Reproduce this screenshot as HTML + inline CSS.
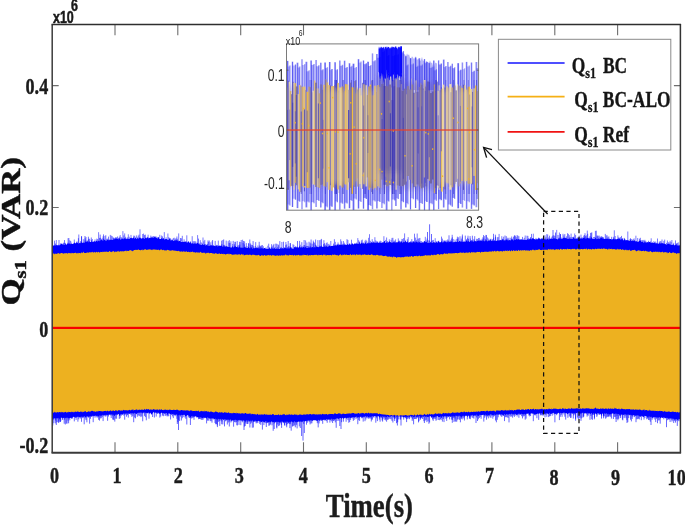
<!DOCTYPE html>
<html lang="en">
<head>
<meta charset="utf-8">
<title>Qs1 (VAR) vs Time(s)</title>
<style>
html,body{margin:0;padding:0;background:#fff;}
body{width:685px;height:525px;overflow:hidden;}
svg{display:block;}
text{white-space:pre;}
</style>
</head>
<body>
<svg width="685" height="525" viewBox="0 0 685 525">
<defs>
<clipPath id="ic"><rect x="286.5" y="43.9" width="192.1" height="166.3"/></clipPath>
<filter id="soft" x="-5%" y="-5%" width="110%" height="110%"><feGaussianBlur stdDeviation=".55"/></filter>
<filter id="soft3" x="-10%" y="-10%" width="120%" height="120%"><feGaussianBlur stdDeviation="2.5"/></filter>
<filter id="noop" x="0" y="0" width="100%" height="100%" filterUnits="userSpaceOnUse"><feOffset dx="0" dy="0"/></filter>
<clipPath id="mc"><rect x="52.2" y="24.5" width="628.1" height="428.2"/></clipPath>
</defs>
<rect width="685" height="525" fill="#fff"/>
<path d="M115 452.8v-10.6M115 24.5v10.8M177.8 452.8v-10.6M177.8 24.5v10.8M240.7 452.8v-10.6M240.7 24.5v10.8M303.5 452.8v-10.6M303.5 24.5v10.8M366.3 452.8v-10.6M366.3 24.5v10.8M429.1 452.8v-10.6M429.1 24.5v10.8M491.9 452.8v-10.6M491.9 24.5v10.8M554.8 452.8v-10.6M554.8 24.5v10.8M617.6 452.8v-10.6M617.6 24.5v10.8M52.2 85.6h6.5M680.4 85.6h-6.5M52.2 207.5h6.5M680.4 207.5h-6.5M52.2 327.9h6.5M680.4 327.9h-6.5" stroke="#6e6e6e" stroke-width="1.1" fill="none"/>
<g clip-path="url(#mc)">
<polygon fill="#0000ff" points="52.2,246.2 52.8,245.9 53.2,245.8 53.8,245.2 54.2,245.6 54.8,245 55.2,245.8 55.8,244.6 56.2,245.3 56.8,245.1 57.2,245.2 57.8,245.3 58.2,245.4 58.8,244.6 59.2,245.4 59.8,244.8 60.2,244.1 60.8,244.9 61.2,243.5 61.8,244 62.2,243.5 62.8,244.8 63.2,243.9 63.8,244.7 64.2,244.8 64.8,244.7 65.2,242.5 65.8,244.3 66.2,244.7 66.8,244.5 67.2,243.2 67.8,244.1 68.2,243.6 68.8,243.7 69.2,243.4 69.8,243.6 70.2,244.3 70.8,243.4 71.2,243.7 71.8,244 72.2,244 72.8,244 73.2,242.9 73.8,243.9 74.2,242.7 74.8,242.4 75.2,243 75.8,243.6 76.2,243.1 76.8,241.8 77.2,242.9 77.8,242.4 78.2,243.4 78.8,242.9 79.2,243.2 79.8,242.7 80.2,243.2 80.8,242.6 81.2,241.9 81.8,242.5 82.2,242.9 82.8,242.6 83.2,242.9 83.8,241.9 84.2,242.4 84.8,242.6 85.2,242 85.8,241.7 86.2,241.5 86.8,241.9 87.2,242 87.8,240.7 88.2,242.1 88.8,242.3 89.2,241.2 89.8,241.7 90.2,242 90.8,241.9 91.2,241.9 91.8,240.7 92.2,241.7 92.8,241.7 93.2,241.6 93.8,241.8 94.2,241.6 94.8,240.8 95.2,241.7 95.8,241.3 96.2,240.6 96.8,241 97.2,241.5 97.8,240.8 98.2,241.1 98.8,240.4 99.2,241.3 99.8,240.7 100.2,240 100.8,240.8 101.2,239.5 101.8,239.2 102.2,240.7 102.8,240.1 103.2,240.7 103.8,238.8 104.2,240 104.8,240.1 105.2,240.5 105.8,240.2 106.2,240.4 106.8,240.3 107.2,239.8 107.8,239.9 108.2,239.4 108.8,240.2 109.2,240.2 109.8,239.3 110.2,239.9 110.8,239.4 111.2,239.2 111.8,239.9 112.2,239.9 112.8,239.4 113.2,239.8 113.8,238.1 114.2,238.8 114.8,239.5 115.2,237.9 115.8,239 116.2,238.1 116.8,239 117.2,238.9 117.8,238.9 118.2,239.5 118.8,238.2 119.2,238.4 119.8,238.2 120.2,239.4 120.8,239.2 121.2,239.3 121.8,238.5 122.2,238.4 122.8,238.9 123.2,239.3 123.8,238.6 124.2,238.7 124.8,238.1 125.2,238.1 125.8,239.1 126.2,238.3 126.8,239.2 127.2,238.5 127.8,238.8 128.2,238.6 128.8,239.1 129.2,238.7 129.8,238.8 130.2,237.8 130.8,238.3 131.2,237.5 131.8,238.3 132.2,238 132.8,238.6 133.2,237.6 133.8,237.6 134.2,238.7 134.8,238.3 135.2,237.2 135.8,238.1 136.2,238.8 136.8,238.7 137.2,238.1 137.8,238.3 138.2,238.2 138.8,238.6 139.2,237.7 139.8,237.6 140.2,237.4 140.8,238.2 141.2,238.4 141.8,238.6 142.2,238.2 142.8,238.1 143.2,238 143.8,238.3 144.2,238.4 144.8,238.5 145.2,237.5 145.8,237.9 146.2,238.2 146.8,238 147.2,237.3 147.8,237.7 148.2,237.6 148.8,238.4 149.2,238 149.8,237.8 150.2,237.8 150.8,237.7 151.2,238.1 151.8,237.2 152.2,237.4 152.8,237.8 153.2,238.1 153.8,237.8 154.2,236.9 154.8,237.3 155.2,237.6 155.8,237.2 156.2,238 156.8,237.9 157.2,238.8 157.8,238.1 158.2,237.4 158.8,237.1 159.2,238.8 159.8,239 160.2,238.9 160.8,239.1 161.2,238.4 161.8,237.9 162.2,239.2 162.8,238.5 163.2,238 163.8,239.1 164.2,239.5 164.8,239.3 165.2,238.8 165.8,239.2 166.2,239 166.8,239.1 167.2,239.8 167.8,239.4 168.2,239.8 168.8,239.9 169.2,238.5 169.8,239.1 170.2,239.6 170.8,240.4 171.2,240.6 171.8,239.4 172.2,240.3 172.8,240.1 173.2,240.8 173.8,240.9 174.2,240.8 174.8,240.1 175.2,241.1 175.8,239.3 176.2,240.7 176.8,239.6 177.2,238.5 177.8,241 178.2,240.4 178.8,241.6 179.2,240.7 179.8,240.9 180.2,240.8 180.8,241.8 181.2,241.9 181.8,242 182.2,242.1 182.8,241.4 183.2,241.7 183.8,242.1 184.2,241.4 184.8,242 185.2,241.9 185.8,241.6 186.2,241.5 186.8,242.6 187.2,242.8 187.8,241.7 188.2,241.4 188.8,241.7 189.2,242.7 189.8,242.5 190.2,242.9 190.8,241 191.2,243.2 191.8,243.4 192.2,243.5 192.8,242.7 193.2,243.5 193.8,243.6 194.2,242.8 194.8,243.7 195.2,244 195.8,242.7 196.2,243.7 196.8,243.9 197.2,242.7 197.8,243 198.2,243.6 198.8,243.7 199.2,244 199.8,244.6 200.2,244.6 200.8,244.6 201.2,244.7 201.8,244.9 202.2,243.7 202.8,244.6 203.2,245.1 203.8,244.7 204.2,244.7 204.8,243.9 205.2,245 205.8,245.4 206.2,245.2 206.8,244.6 207.2,245.6 207.8,244.9 208.2,245.4 208.8,245.6 209.2,245.6 209.8,245.8 210.2,244.5 210.8,245.7 211.2,245.2 211.8,245.2 212.2,245.4 212.8,245.6 213.2,244.8 213.8,245.9 214.2,245.7 214.8,246.1 215.2,246.3 215.8,245.5 216.2,246 216.8,244.6 217.2,246.3 217.8,246.3 218.2,245.6 218.8,246.3 219.2,245.5 219.8,245.7 220.2,245.6 220.8,245.9 221.2,245.8 221.8,245.5 222.2,246.6 222.8,246.4 223.2,245.2 223.8,246.8 224.2,246.5 224.8,245.8 225.2,247 225.8,245.8 226.2,246.3 226.8,246.3 227.2,246.4 227.8,246.8 228.2,247 228.8,247.1 229.2,247.1 229.8,247.1 230.2,247.1 230.8,247.4 231.2,247.2 231.8,247.4 232.2,247 232.8,245.8 233.2,247 233.8,247.5 234.2,246.1 234.8,247.3 235.2,245.9 235.8,246.4 236.2,246.9 236.8,247.1 237.2,247.6 237.8,246.2 238.2,247.5 238.8,247.2 239.2,247.3 239.8,245.9 240.2,247.7 240.8,247.2 241.2,246.9 241.8,247.9 242.2,247.9 242.8,247 243.2,248 243.8,247.1 244.2,247.1 244.8,247.2 245.2,247.2 245.8,247.8 246.2,247.8 246.8,248.1 247.2,247.9 247.8,248 248.2,247.2 248.8,247.1 249.2,247.7 249.8,248.2 250.2,248.2 250.8,247.6 251.2,246.9 251.8,247.8 252.2,248.4 252.8,248.2 253.2,248.3 253.8,247.7 254.2,248.5 254.8,247.6 255.2,247.9 255.8,248 256.2,248.3 256.8,247.1 257.2,247.6 257.8,248.3 258.2,247.6 258.8,248.5 259.2,248.6 259.8,247.9 260.2,246.6 260.8,248.8 261.2,247.5 261.8,248.4 262.2,248.8 262.8,247.5 263.2,248.7 263.8,248.2 264.2,247.9 264.8,248.1 265.2,248.8 265.8,248.2 266.2,248.7 266.8,248.7 267.2,249.1 267.8,248.7 268.2,248.4 268.8,248.9 269.2,248.2 269.8,248 270.2,249.1 270.8,248.4 271.2,247.8 271.8,249.2 272.2,248.6 272.8,248.3 273.2,248.4 273.8,248.7 274.2,247.8 274.8,248.5 275.2,248.8 275.8,249 276.2,248.5 276.8,248.6 277.2,249 277.8,248.6 278.2,249.1 278.8,248.2 279.2,249 279.8,249.1 280.2,248.3 280.8,248.3 281.2,249.1 281.8,247.5 282.2,248.5 282.8,248.1 283.2,247.4 283.8,249 284.2,248 284.8,247.6 285.2,248 285.8,248.3 286.2,247.9 286.8,248.6 287.2,248.2 287.8,248.2 288.2,248.3 288.8,248.2 289.2,248.4 289.8,247.9 290.2,247.7 290.8,247.1 291.2,247.1 291.8,248.4 292.2,248.5 292.8,248.6 293.2,248.5 293.8,248.6 294.2,246.9 294.8,247.6 295.2,247.1 295.8,247.6 296.2,247.3 296.8,247.8 297.2,247.7 297.8,247.5 298.2,247.1 298.8,248 299.2,247.1 299.8,245.8 300.2,247.8 300.8,247.3 301.2,247.3 301.8,247.2 302.2,247.9 302.8,246.8 303.2,247.2 303.8,246.8 304.2,247.3 304.8,247.6 305.2,247.2 305.8,246.2 306.2,247.6 306.8,247.9 307.2,247.8 307.8,247.7 308.2,246.8 308.8,247.7 309.2,247.7 309.8,246.5 310.2,246 310.8,247.5 311.2,246.9 311.8,247.5 312.2,247 312.8,246.9 313.2,247.4 313.8,246.5 314.2,246.9 314.8,247.3 315.2,247.1 315.8,247.2 316.2,246.7 316.8,246.4 317.2,247 317.8,246.7 318.2,247 318.8,247.2 319.2,245.9 319.8,247.1 320.2,245.9 320.8,246.5 321.2,246.8 321.8,245.1 322.2,246.9 322.8,246.8 323.2,246.8 323.8,246.5 324.2,246.5 324.8,245.9 325.2,246.5 325.8,246.2 326.2,246.6 326.8,245.6 327.2,246.4 327.8,246.5 328.2,246.4 328.8,246.1 329.2,246 329.8,245 330.2,246 330.8,246.2 331.2,246.1 331.8,246 332.2,245.7 332.8,246 333.2,245.6 333.8,245.8 334.2,245.9 334.8,244.7 335.2,245.5 335.8,244.9 336.2,245 336.8,245.7 337.2,244.5 337.8,245 338.2,245.6 338.8,243.5 339.2,245.3 339.8,244.3 340.2,244.4 340.8,245 341.2,244.4 341.8,245.1 342.2,245.2 342.8,243.8 343.2,243.9 343.8,245.2 344.2,245 344.8,244.1 345.2,244.6 345.8,244.8 346.2,244.7 346.8,245 347.2,244.1 347.8,244.3 348.2,244.9 348.8,244.2 349.2,244.3 349.8,243.8 350.2,244.4 350.8,244.4 351.2,244.4 351.8,243.7 352.2,243.1 352.8,244 353.2,244.5 353.8,244.2 354.2,242.9 354.8,244.1 355.2,243.8 355.8,243.6 356.2,242.3 356.8,244 357.2,243.4 357.8,243.8 358.2,243.6 358.8,244.1 359.2,243.4 359.8,241.6 360.2,243.9 360.8,243.5 361.2,243.3 361.8,242.4 362.2,242.9 362.8,243.6 363.2,243.6 363.8,243.1 364.2,243.3 364.8,243.7 365.2,242.9 365.8,241.9 366.2,243.5 366.8,243.6 367.2,243.4 367.8,242.4 368.2,243.5 368.8,242.2 369.2,242.7 369.8,243.3 370.2,243.3 370.8,242.8 371.2,242.5 371.8,242.1 372.2,242.6 372.8,243.1 373.2,242.8 373.8,242 374.2,242.4 374.8,242.9 375.2,242.8 375.8,242.8 376.2,242.3 376.8,243 377.2,242.2 377.8,242.4 378.2,242.4 378.8,243 379.2,242.5 379.8,242.5 380.2,242.9 380.8,242.2 381.2,243 381.8,242.7 382.2,242.2 382.8,242.4 383.2,242.6 383.8,241.9 384.2,240.9 384.8,241.1 385.2,242.9 385.8,242.7 386.2,241.5 386.8,242.8 387.2,242 387.8,242.7 388.2,242.4 388.8,242.1 389.2,241.3 389.8,241.5 390.2,242.2 390.8,242.1 391.2,242.6 391.8,242.6 392.2,242.2 392.8,242.4 393.2,242.3 393.8,241.9 394.2,242.4 394.8,241.8 395.2,241.7 395.8,242.7 396.2,242 396.8,242.4 397.2,242.5 397.8,242.1 398.2,241.3 398.8,241.8 399.2,242.4 399.8,240.4 400.2,241.8 400.8,242.6 401.2,242.1 401.8,240.9 402.2,242.5 402.8,242.4 403.2,241.6 403.8,242.3 404.2,242.1 404.8,242.3 405.2,241 405.8,241.2 406.2,242.2 406.8,242.1 407.2,240.9 407.8,242.2 408.2,242.6 408.8,242.4 409.2,242.1 409.8,242.5 410.2,241.2 410.8,242.4 411.2,242.1 411.8,242.5 412.2,242.2 412.8,242.5 413.2,240.7 413.8,241.7 414.2,242.6 414.8,241.8 415.2,241 415.8,242.8 416.2,241.2 416.8,242 417.2,241.7 417.8,242.4 418.2,242.8 418.8,241 419.2,242.5 419.8,241.5 420.2,242.6 420.8,242.8 421.2,242.6 421.8,242.8 422.2,242.4 422.8,242.3 423.2,241.4 423.8,242.9 424.2,241.2 424.8,241.1 425.2,241.7 425.8,242.3 426.2,242.3 426.8,241.6 427.2,242.8 427.8,242.8 428.2,242.6 428.8,242.8 429.2,242.5 429.8,242.8 430.2,241.9 430.8,242.6 431.2,240.8 431.8,242.8 432.2,242.7 432.8,242.4 433.2,242.2 433.8,241.9 434.2,242.7 434.8,242 435.2,242.6 435.8,242.7 436.2,241.4 436.8,242.2 437.2,242.7 437.8,242.3 438.2,241.5 438.8,241 439.2,242.2 439.8,242.3 440.2,242.2 440.8,242.2 441.2,241.5 441.8,241.3 442.2,242 442.8,242.4 443.2,242.1 443.8,242.2 444.2,241.8 444.8,240.8 445.2,242.3 445.8,241.3 446.2,242 446.8,242.2 447.2,242.3 447.8,241.1 448.2,242.4 448.8,241.2 449.2,241.8 449.8,241.7 450.2,241.4 450.8,242.1 451.2,241.9 451.8,240.7 452.2,241.8 452.8,242.3 453.2,242.1 453.8,242.3 454.2,241.8 454.8,242.3 455.2,241.2 455.8,242 456.2,242 456.8,241.9 457.2,241 457.8,242.1 458.2,242 458.8,242.1 459.2,241 459.8,240.8 460.2,242.1 460.8,241.1 461.2,240.6 461.8,241.9 462.2,242.1 462.8,241.5 463.2,242 463.8,241.5 464.2,241.6 464.8,241.4 465.2,242 465.8,241.1 466.2,239.7 466.8,241.1 467.2,241.6 467.8,241.2 468.2,241.2 468.8,240.9 469.2,241.5 469.8,241.9 470.2,241 470.8,241 471.2,241.4 471.8,239.9 472.2,240.5 472.8,241.4 473.2,241.6 473.8,241.6 474.2,240.1 474.8,241.3 475.2,241 475.8,241.2 476.2,241.6 476.8,240.8 477.2,241 477.8,241.1 478.2,240.5 478.8,240.8 479.2,240.2 479.8,241.3 480.2,240.5 480.8,241.1 481.2,240.6 481.8,240.9 482.2,241.3 482.8,239.2 483.2,240.7 483.8,240.9 484.2,241.3 484.8,241 485.2,240.2 485.8,240.9 486.2,239.7 486.8,241 487.2,241.2 487.8,241.1 488.2,240 488.8,240.9 489.2,240.4 489.8,240.2 490.2,240.4 490.8,239.2 491.2,240.4 491.8,240.9 492.2,240.9 492.8,239.4 493.2,240.2 493.8,240.9 494.2,240.6 494.8,240.3 495.2,240.6 495.8,240.7 496.2,240.7 496.8,240.8 497.2,240.8 497.8,239.8 498.2,240.8 498.8,240.1 499.2,240 499.8,240.6 500.2,240.2 500.8,239.8 501.2,240.6 501.8,239.8 502.2,239.7 502.8,238.6 503.2,238.9 503.8,240.5 504.2,240 504.8,240.5 505.2,240.5 505.8,239.2 506.2,239.4 506.8,239.6 507.2,240.5 507.8,239.3 508.2,240.4 508.8,239.9 509.2,240.3 509.8,239.8 510.2,240.4 510.8,240 511.2,240 511.8,238.5 512.2,239.6 512.8,239.8 513.2,240.2 513.8,240.3 514.2,239.4 514.8,239.9 515.2,239.7 515.8,240.1 516.2,239.2 516.8,239 517.2,239.2 517.8,239.7 518.2,239.2 518.8,239.1 519.2,240.1 519.8,239 520.2,239.8 520.8,239.3 521.2,239.1 521.8,239.7 522.2,239.7 522.8,239.4 523.2,239.5 523.8,239.7 524.2,240 524.8,239.6 525.2,239.6 525.8,239.9 526.2,240 526.8,239.5 527.2,239.6 527.8,239 528.2,239.8 528.8,239.1 529.2,238.8 529.8,239.4 530.2,237.9 530.8,239.1 531.2,239.1 531.8,239.6 532.2,238.2 532.8,238.3 533.2,238.1 533.8,238.9 534.2,239.2 534.8,239.1 535.2,239.1 535.8,239.7 536.2,239.3 536.8,239.1 537.2,239.6 537.8,238.8 538.2,237.7 538.8,239.1 539.2,238.7 539.8,238.8 540.2,239.4 540.8,238.8 541.2,239.3 541.8,238.8 542.2,238.8 542.8,238.2 543.2,239.5 543.8,239.1 544.2,238.6 544.8,239.4 545.2,238.6 545.8,239.5 546.2,239.4 546.8,238.9 547.2,238.5 547.8,239.1 548.2,239.2 548.8,239.3 549.2,239.3 549.8,238.6 550.2,238.4 550.8,239 551.2,238.9 551.8,238.6 552.2,239 552.8,239 553.2,238.9 553.8,237.5 554.2,238.9 554.8,237.7 555.2,238.4 555.8,238.7 556.2,238.9 556.8,238.8 557.2,239.2 557.8,239.2 558.2,238.9 558.8,237.6 559.2,239 559.8,237.2 560.2,238.8 560.8,238.5 561.2,238.5 561.8,239 562.2,238.9 562.8,237.9 563.2,237.6 563.8,238.2 564.2,237.3 564.8,238.3 565.2,237.7 565.8,238.2 566.2,238.5 566.8,237.9 567.2,238.8 567.8,238.8 568.2,239 568.8,238.6 569.2,237.5 569.8,238.9 570.2,239 570.8,238.2 571.2,238.6 571.8,238.9 572.2,238.4 572.8,239.1 573.2,237.5 573.8,237.3 574.2,238.8 574.8,238.3 575.2,238.8 575.8,238.4 576.2,238.9 576.8,237.9 577.2,239 577.8,236.9 578.2,238.1 578.8,238.1 579.2,238.3 579.8,238.8 580.2,238.2 580.8,238.4 581.2,238.5 581.8,238.3 582.2,238.3 582.8,238.8 583.2,238.1 583.8,237.7 584.2,238.5 584.8,237.1 585.2,238.5 585.8,238.6 586.2,238.7 586.8,237.5 587.2,238.1 587.8,238.1 588.2,238.4 588.8,238.1 589.2,238.5 589.8,238.3 590.2,239.1 590.8,237.7 591.2,237.8 591.8,237 592.2,238.2 592.8,238.9 593.2,239 593.8,239 594.2,238.9 594.8,239 595.2,238.2 595.8,237.3 596.2,239.2 596.8,238.6 597.2,239.1 597.8,239 598.2,238.4 598.8,238.6 599.2,238.5 599.8,238.9 600.2,238.6 600.8,237.4 601.2,237.2 601.8,237.9 602.2,239 602.8,237 603.2,238.6 603.8,239.1 604.2,239.1 604.8,238.8 605.2,239.1 605.8,238.8 606.2,238.6 606.8,238.9 607.2,238.9 607.8,238.2 608.2,239.3 608.8,238.5 609.2,239.2 609.8,238.4 610.2,239 610.8,238.9 611.2,239.1 611.8,239.4 612.2,239.3 612.8,239.2 613.2,238.8 613.8,238.6 614.2,238.4 614.8,239.6 615.2,239 615.8,239.2 616.2,239.1 616.8,239.6 617.2,239.1 617.8,238.8 618.2,239.2 618.8,237.9 619.2,239.3 619.8,238.2 620.2,240 620.8,239.1 621.2,239.6 621.8,239 622.2,239.6 622.8,238.7 623.2,240 623.8,240.4 624.2,239.5 624.8,238.3 625.2,239.4 625.8,240.5 626.2,240.3 626.8,240.1 627.2,240.2 627.8,239.9 628.2,240.8 628.8,240.1 629.2,240.9 629.8,240.9 630.2,239 630.8,240.4 631.2,241.1 631.8,241.1 632.2,240.9 632.8,240.4 633.2,241 633.8,240.7 634.2,240 634.8,240.7 635.2,241.1 635.8,241.6 636.2,240.8 636.8,241.4 637.2,241.8 637.8,241.4 638.2,241.4 638.8,241.8 639.2,240.4 639.8,241 640.2,240.7 640.8,240.2 641.2,241.9 641.8,242.1 642.2,242 642.8,241.6 643.2,242.3 643.8,242.4 644.2,242.4 644.8,240.9 645.2,242.5 645.8,241.9 646.2,242.2 646.8,242.5 647.2,242.2 647.8,242 648.2,242.4 648.8,242.1 649.2,241.9 649.8,242 650.2,241.8 650.8,243 651.2,243 651.8,242.5 652.2,242 652.8,243.1 653.2,242.9 653.8,243.1 654.2,241.9 654.8,242.7 655.2,243.5 655.8,242.8 656.2,242.8 656.8,243.6 657.2,243.6 657.8,243.1 658.2,243.5 658.8,243.7 659.2,243.4 659.8,242.4 660.2,244 660.8,242.8 661.2,243.4 661.8,242.9 662.2,243.2 662.8,243.2 663.2,244.2 663.8,243.1 664.2,243.9 664.8,243.4 665.2,244.3 665.8,244 666.2,244.4 666.8,244.5 667.2,244.2 667.8,243.8 668.2,243.8 668.8,243.9 669.2,243.8 669.8,244.5 670.2,243.7 670.8,245.1 671.2,244.9 671.8,244.9 672.2,244.5 672.8,245.1 673.2,244.6 673.8,244.2 674.2,245 674.8,245.4 675.2,244.8 675.8,244.8 676.2,245.5 676.8,243.6 677.2,245.3 677.8,245.5 678.2,245.1 678.8,245.9 679.2,245 679.8,245.7 680.2,245.2 680.2,420.8 679.8,419.2 679.2,419.1 678.8,418.7 678.2,420.7 677.8,419.5 677.2,420.3 676.8,418.9 676.2,419 675.8,419.8 675.2,418.8 674.8,420.2 674.2,419.1 673.8,418.4 673.2,419.2 672.8,418.2 672.2,419.3 671.8,419.9 671.2,418 670.8,419.1 670.2,418 669.8,418.7 669.2,418.2 668.8,418.6 668.2,418.7 667.8,418.2 667.2,417.7 666.8,417.7 666.2,418 665.8,418.5 665.2,417.9 664.8,418.1 664.2,417.4 663.8,417.4 663.2,417.4 662.8,418.1 662.2,417.7 661.8,417.2 661.2,417.6 660.8,417.8 660.2,418.7 659.8,417.3 659.2,417 658.8,417.4 658.2,417.8 657.8,418.1 657.2,416.9 656.8,417.4 656.2,417.5 655.8,417.2 655.2,417.3 654.8,417.4 654.2,416.9 653.8,416.9 653.2,417.4 652.8,417.5 652.2,418.1 651.8,417.8 651.2,416.4 650.8,417 650.2,416.8 649.8,417.7 649.2,416.1 648.8,416.2 648.2,417.9 647.8,416.6 647.2,417.9 646.8,416.6 646.2,416.1 645.8,416.1 645.2,416 644.8,416 644.2,415.8 643.8,416.7 643.2,417.2 642.8,416.5 642.2,416.6 641.8,415.8 641.2,416.1 640.8,417.2 640.2,416.1 639.8,415.6 639.2,416.5 638.8,415.3 638.2,415.7 637.8,415.3 637.2,415.4 636.8,415.8 636.2,415.3 635.8,416.3 635.2,415.6 634.8,415 634.2,417.2 633.8,415.2 633.2,415.1 632.8,415 632.2,417 631.8,415.2 631.2,415.3 630.8,414.8 630.2,414.9 629.8,414.7 629.2,415.4 628.8,414.8 628.2,414.4 627.8,414.9 627.2,414.3 626.8,414.9 626.2,414.5 625.8,414.6 625.2,414.5 624.8,414.3 624.2,414.7 623.8,415.1 623.2,414.7 622.8,414.4 622.2,414.7 621.8,415.3 621.2,414.2 620.8,414.4 620.2,414.7 619.8,414.5 619.2,415 618.8,414 618.2,413.9 617.8,413.8 617.2,414.3 616.8,413.9 616.2,413.6 615.8,413.7 615.2,413.6 614.8,414.2 614.2,413.7 613.8,413.8 613.2,413.5 612.8,413.4 612.2,413.5 611.8,413.4 611.2,414.3 610.8,413.9 610.2,414.4 609.8,414.6 609.2,414.4 608.8,413.6 608.2,414.1 607.8,414.4 607.2,413.7 606.8,413.3 606.2,413.6 605.8,413.6 605.2,413.9 604.8,413.2 604.2,413.6 603.8,416.1 603.2,413.8 602.8,413.5 602.2,413.8 601.8,415.5 601.2,414 600.8,413.8 600.2,414.3 599.8,413.2 599.2,414.2 598.8,414 598.2,413.1 597.8,413.3 597.2,413.3 596.8,414.1 596.2,414.1 595.8,413 595.2,413.3 594.8,413.2 594.2,415 593.8,413.2 593.2,413.3 592.8,413.8 592.2,414.1 591.8,413.1 591.2,413 590.8,414.3 590.2,413.5 589.8,413.4 589.2,413 588.8,413.5 588.2,413.2 587.8,412.9 587.2,412.8 586.8,412.9 586.2,413.6 585.8,412.7 585.2,413.8 584.8,413.5 584.2,413.2 583.8,413.2 583.2,412.8 582.8,412.8 582.2,413 581.8,412.9 581.2,413.7 580.8,412.9 580.2,414.4 579.8,412.7 579.2,415.9 578.8,413.1 578.2,412.7 577.8,412.8 577.2,412.8 576.8,413.3 576.2,413 575.8,413.3 575.2,412.8 574.8,413.6 574.2,413.3 573.8,413.4 573.2,413.1 572.8,413.5 572.2,413.8 571.8,413.7 571.2,412.8 570.8,413.3 570.2,413.1 569.8,413 569.2,412.8 568.8,413 568.2,413 567.8,414.1 567.2,413.8 566.8,413.2 566.2,413.3 565.8,413 565.2,413.2 564.8,412.8 564.2,412.7 563.8,412.9 563.2,412.6 562.8,413.5 562.2,412.9 561.8,413 561.2,413.6 560.8,412.9 560.2,412.7 559.8,413.5 559.2,413.6 558.8,412.9 558.2,412.7 557.8,413.1 557.2,413.7 556.8,413.3 556.2,414.4 555.8,414 555.2,413.5 554.8,414.1 554.2,413.6 553.8,412.9 553.2,412.8 552.8,413.4 552.2,413.1 551.8,413.8 551.2,413.7 550.8,414.2 550.2,413.4 549.8,413.3 549.2,412.8 548.8,414.1 548.2,414.1 547.8,413.6 547.2,413.8 546.8,413.2 546.2,413.5 545.8,413.1 545.2,414.7 544.8,413.9 544.2,413.6 543.8,413.8 543.2,414 542.8,414.6 542.2,413.5 541.8,413.5 541.2,413 540.8,413.1 540.2,414.6 539.8,413 539.2,413.7 538.8,413.8 538.2,413.5 537.8,413.7 537.2,413.1 536.8,414.2 536.2,413.9 535.8,413.9 535.2,415.1 534.8,414.3 534.2,414.9 533.8,413.7 533.2,413.4 532.8,413.2 532.2,413.9 531.8,413.2 531.2,413.6 530.8,413.4 530.2,413.4 529.8,414.8 529.2,414.9 528.8,413.7 528.2,413.3 527.8,413.4 527.2,414.1 526.8,413.4 526.2,414 525.8,414.1 525.2,415.5 524.8,413.6 524.2,414.5 523.8,414.5 523.2,414.3 522.8,414.2 522.2,414 521.8,414 521.2,413.6 520.8,413.9 520.2,414.6 519.8,413.4 519.2,413.9 518.8,413.4 518.2,414 517.8,414 517.2,414.9 516.8,414.7 516.2,414.9 515.8,413.7 515.2,414 514.8,415.1 514.2,413.6 513.8,414.3 513.2,413.7 512.8,414.8 512.2,413.7 511.8,413.5 511.2,414 510.8,414.6 510.2,414.3 509.8,414.2 509.2,413.8 508.8,413.9 508.2,414.9 507.8,415 507.2,414.1 506.8,414.3 506.2,414 505.8,415.4 505.2,414.6 504.8,414 504.2,414 503.8,414.9 503.2,415.5 502.8,415.4 502.2,414.3 501.8,414.6 501.2,414.3 500.8,415.2 500.2,414.3 499.8,414.4 499.2,414.5 498.8,414.3 498.2,415.1 497.8,415 497.2,414 496.8,414.4 496.2,414.6 495.8,414.9 495.2,414.7 494.8,415.1 494.2,414.3 493.8,414.9 493.2,415.5 492.8,415 492.2,415.3 491.8,414.7 491.2,414.5 490.8,414.4 490.2,414.3 489.8,414.7 489.2,416.5 488.8,415.2 488.2,415.6 487.8,414.3 487.2,416.8 486.8,414.9 486.2,415.4 485.8,414.7 485.2,414.5 484.8,415.1 484.2,415.8 483.8,414.6 483.2,414.9 482.8,415.3 482.2,414.7 481.8,415.2 481.2,414.9 480.8,414.7 480.2,415.2 479.8,414.6 479.2,415.4 478.8,415.7 478.2,415.9 477.8,415.7 477.2,415.5 476.8,414.7 476.2,414.8 475.8,415 475.2,415.2 474.8,415.7 474.2,414.8 473.8,416.2 473.2,415.4 472.8,414.8 472.2,415.2 471.8,416.6 471.2,415 470.8,415 470.2,416.9 469.8,415.6 469.2,416.9 468.8,416.1 468.2,415.5 467.8,415.5 467.2,416.9 466.8,415.4 466.2,416 465.8,415.4 465.2,416 464.8,416.7 464.2,416.1 463.8,416.2 463.2,415.5 462.8,415.8 462.2,416.6 461.8,416.5 461.2,417 460.8,416.5 460.2,416.2 459.8,415.9 459.2,415.4 458.8,415.5 458.2,416.9 457.8,415.4 457.2,416.5 456.8,416.1 456.2,415.8 455.8,415.5 455.2,416.1 454.8,416.8 454.2,416 453.8,415.8 453.2,416.8 452.8,415.8 452.2,416.4 451.8,417.2 451.2,415.6 450.8,416.9 450.2,416 449.8,416.1 449.2,416.3 448.8,416.4 448.2,417.1 447.8,416.1 447.2,416.2 446.8,416 446.2,416.4 445.8,416.6 445.2,415.8 444.8,416.4 444.2,415.9 443.8,417.6 443.2,416.2 442.8,415.9 442.2,416.5 441.8,417.9 441.2,416.4 440.8,416.1 440.2,417 439.8,416.9 439.2,417 438.8,416.7 438.2,417.2 437.8,416.2 437.2,415.9 436.8,416.1 436.2,416.4 435.8,417 435.2,416.2 434.8,417.5 434.2,416.8 433.8,416.9 433.2,417.5 432.8,416.2 432.2,416.9 431.8,417.1 431.2,417 430.8,416.2 430.2,416.3 429.8,416.6 429.2,416 428.8,417.4 428.2,416.6 427.8,416.7 427.2,417.2 426.8,416.4 426.2,416.5 425.8,416.7 425.2,416.8 424.8,416.1 424.2,416.3 423.8,416.3 423.2,416.8 422.8,417.1 422.2,416.1 421.8,416.6 421.2,417.9 420.8,416.1 420.2,418.4 419.8,416.1 419.2,416.2 418.8,417.1 418.2,416.1 417.8,416.5 417.2,417.2 416.8,417.6 416.2,416.4 415.8,416.6 415.2,416 414.8,417 414.2,416.6 413.8,417.5 413.2,416.7 412.8,416 412.2,416.3 411.8,416.7 411.2,416.5 410.8,416 410.2,416.6 409.8,416.8 409.2,417 408.8,417.1 408.2,416 407.8,417.4 407.2,416.4 406.8,416.5 406.2,417 405.8,416.6 405.2,417.2 404.8,417.3 404.2,416.6 403.8,416.9 403.2,417 402.8,416.8 402.2,416 401.8,416.2 401.2,416.4 400.8,417.3 400.2,416.1 399.8,416.2 399.2,416 398.8,416 398.2,416.5 397.8,416.8 397.2,416 396.8,416.8 396.2,416.3 395.8,416.3 395.2,416 394.8,417.6 394.2,417.3 393.8,416.4 393.2,416.6 392.8,416.3 392.2,416.5 391.8,416.2 391.2,416 390.8,416 390.2,417.2 389.8,416.2 389.2,416.9 388.8,417 388.2,416.7 387.8,416 387.2,416.2 386.8,417.6 386.2,416.8 385.8,416.5 385.2,416.7 384.8,417.8 384.2,415.9 383.8,417.2 383.2,416.2 382.8,416.2 382.2,416 381.8,416.2 381.2,417.9 380.8,416 380.2,416.3 379.8,417.1 379.2,417.8 378.8,416.5 378.2,416.1 377.8,416.5 377.2,416 376.8,416.4 376.2,416.8 375.8,416.3 375.2,416.2 374.8,416.1 374.2,416.1 373.8,417 373.2,416 372.8,416.1 372.2,416 371.8,416.2 371.2,416.7 370.8,416.5 370.2,417.3 369.8,416.9 369.2,416.2 368.8,417.3 368.2,417.2 367.8,416.4 367.2,416.5 366.8,416.6 366.2,418.2 365.8,416.3 365.2,416.1 364.8,417 364.2,416.4 363.8,416.7 363.2,416.8 362.8,417.8 362.2,416.8 361.8,416.5 361.2,417.2 360.8,417.1 360.2,416.5 359.8,418.3 359.2,416.6 358.8,417 358.2,417.6 357.8,416.7 357.2,418.3 356.8,416.7 356.2,416.6 355.8,417.5 355.2,416.7 354.8,418.2 354.2,417.1 353.8,417.6 353.2,417 352.8,417 352.2,417.2 351.8,417.3 351.2,417.5 350.8,417.7 350.2,418.1 349.8,417 349.2,418.1 348.8,417.4 348.2,418.1 347.8,418.2 347.2,417.5 346.8,418.7 346.2,418.2 345.8,418.3 345.2,417.5 344.8,418.3 344.2,417.8 343.8,418.6 343.2,418.8 342.8,418.2 342.2,417.8 341.8,418.2 341.2,418.9 340.8,418.1 340.2,418.1 339.8,418.2 339.2,418.3 338.8,419.8 338.2,418.5 337.8,418.9 337.2,418.1 336.8,418.3 336.2,418.7 335.8,418.7 335.2,419.3 334.8,419.3 334.2,419.4 333.8,419 333.2,419.2 332.8,418.8 332.2,420.5 331.8,418.6 331.2,418.9 330.8,420.3 330.2,419 329.8,419.4 329.2,419.7 328.8,419.4 328.2,419.7 327.8,419.2 327.2,420.1 326.8,419.1 326.2,419.1 325.8,419.7 325.2,420.6 324.8,420.4 324.2,419.1 323.8,419.7 323.2,420.1 322.8,420.2 322.2,419.8 321.8,421.3 321.2,419.6 320.8,419.6 320.2,420.3 319.8,420.5 319.2,420.6 318.8,419.7 318.2,420.1 317.8,420.4 317.2,421.4 316.8,420.5 316.2,420.4 315.8,420.4 315.2,420.1 314.8,420.6 314.2,420.1 313.8,420.5 313.2,420.1 312.8,421.2 312.2,420.5 311.8,420.9 311.2,420 310.8,420.2 310.2,420.6 309.8,420.3 309.2,421 308.8,420.2 308.2,421 307.8,420.8 307.2,420.6 306.8,421.4 306.2,420.6 305.8,421.4 305.2,420.7 304.8,422 304.2,421.1 303.8,421 303.2,420.5 302.8,422.5 302.2,421.1 301.8,421.4 301.2,421.8 300.8,421.8 300.2,420.8 299.8,421.4 299.2,421.7 298.8,421.4 298.2,421.7 297.8,421.8 297.2,422.3 296.8,421.4 296.2,422.4 295.8,421.9 295.2,421.8 294.8,421.2 294.2,421.6 293.8,421.7 293.2,423 292.8,421.6 292.2,421.9 291.8,421.8 291.2,421.3 290.8,421.7 290.2,422.8 289.8,421.9 289.2,421.7 288.8,421.8 288.2,423.3 287.8,421.3 287.2,421.9 286.8,421.8 286.2,421.3 285.8,423.2 285.2,421.5 284.8,421.6 284.2,421.8 283.8,422.5 283.2,422 282.8,421.5 282.2,422.1 281.8,421.4 281.2,421.4 280.8,422.6 280.2,421.4 279.8,422.4 279.2,422.4 278.8,421.4 278.2,422.2 277.8,421.6 277.2,422.2 276.8,421.6 276.2,422 275.8,421.7 275.2,422.4 274.8,423.1 274.2,421.6 273.8,422.1 273.2,421.9 272.8,422.1 272.2,421.7 271.8,421.7 271.2,421.2 270.8,422.1 270.2,422.4 269.8,422.2 269.2,421.5 268.8,421.7 268.2,422.4 267.8,421.5 267.2,423 266.8,421.1 266.2,421.5 265.8,421.3 265.2,421.3 264.8,422.1 264.2,422.5 263.8,422.2 263.2,421.6 262.8,421.3 262.2,421.6 261.8,422.2 261.2,421.8 260.8,421.8 260.2,420.8 259.8,421.5 259.2,421.2 258.8,421 258.2,420.8 257.8,420.9 257.2,421.4 256.8,421.7 256.2,420.9 255.8,420.7 255.2,420.7 254.8,420.9 254.2,420.8 253.8,421.2 253.2,422.3 252.8,420.6 252.2,420.4 251.8,420.4 251.2,421.6 250.8,420.8 250.2,420.5 249.8,421.5 249.2,420.4 248.8,422 248.2,420.3 247.8,420.7 247.2,420.3 246.8,420.6 246.2,420.5 245.8,420.4 245.2,422 244.8,420.5 244.2,420.7 243.8,420.9 243.2,420.1 242.8,420.4 242.2,420.9 241.8,420 241.2,420.6 240.8,420.6 240.2,420 239.8,420.6 239.2,419.8 238.8,420.3 238.2,420 237.8,421.2 237.2,419.7 236.8,420.3 236.2,419.9 235.8,419.6 235.2,420.3 234.8,419.8 234.2,420.2 233.8,420.2 233.2,420.4 232.8,420.3 232.2,420.1 231.8,421.4 231.2,420.3 230.8,419.5 230.2,419.5 229.8,419.6 229.2,420.2 228.8,419.6 228.2,419.7 227.8,420.3 227.2,419.3 226.8,420.1 226.2,419.6 225.8,420 225.2,419 224.8,418.9 224.2,419.2 223.8,420.3 223.2,419.2 222.8,419 222.2,418.9 221.8,420.5 221.2,418.8 220.8,418.7 220.2,419.4 219.8,418.9 219.2,419.2 218.8,418.8 218.2,419.1 217.8,420.4 217.2,418.4 216.8,418.9 216.2,419.4 215.8,418.6 215.2,418.7 214.8,418.9 214.2,419.3 213.8,419.7 213.2,418.1 212.8,418.6 212.2,418.1 211.8,418.5 211.2,418.6 210.8,418.3 210.2,418.9 209.8,417.8 209.2,419.5 208.8,418.2 208.2,417.7 207.8,417.6 207.2,417.5 206.8,418.4 206.2,418.6 205.8,417.5 205.2,418.2 204.8,417.6 204.2,418.6 203.8,417.3 203.2,418.4 202.8,418 202.2,418 201.8,418.3 201.2,417.3 200.8,417.8 200.2,416.7 199.8,419.1 199.2,416.7 198.8,417.2 198.2,417.6 197.8,417.2 197.2,417.2 196.8,417.7 196.2,416.6 195.8,416.2 195.2,416.4 194.8,416.2 194.2,417.3 193.8,416 193.2,416.9 192.8,417 192.2,415.8 191.8,415.9 191.2,416.4 190.8,417.2 190.2,418.1 189.8,416 189.2,416.8 188.8,415.6 188.2,415.6 187.8,415.1 187.2,415.3 186.8,415.6 186.2,415.9 185.8,416.6 185.2,416.1 184.8,415.1 184.2,414.8 183.8,414.7 183.2,415.1 182.8,415.1 182.2,415.2 181.8,414.7 181.2,414.9 180.8,415.4 180.2,414.9 179.8,414.6 179.2,415.7 178.8,415.1 178.2,415.1 177.8,416.4 177.2,414.6 176.8,414.1 176.2,415.2 175.8,414.5 175.2,415.4 174.8,414.2 174.2,415.1 173.8,414.7 173.2,413.7 172.8,413.9 172.2,414.1 171.8,413.8 171.2,413.7 170.8,414.2 170.2,414.1 169.8,414 169.2,413.3 168.8,413.1 168.2,413.8 167.8,415.4 167.2,413.9 166.8,413 166.2,413.1 165.8,413.6 165.2,413.3 164.8,413.3 164.2,413.4 163.8,413.1 163.2,413.1 162.8,412.9 162.2,413.5 161.8,412.5 161.2,412.9 160.8,413.3 160.2,413.6 159.8,413.5 159.2,414 158.8,412.5 158.2,412.9 157.8,414.3 157.2,412.3 156.8,413.3 156.2,412.4 155.8,412.6 155.2,412.7 154.8,413.4 154.2,412.2 153.8,412.3 153.2,412.2 152.8,413 152.2,413.4 151.8,414.4 151.2,414.5 150.8,412.6 150.2,413.3 149.8,413.4 149.2,413.3 148.8,412.3 148.2,412.8 147.8,413.5 147.2,412.7 146.8,412.9 146.2,412.8 145.8,413.3 145.2,412.5 144.8,412.2 144.2,412.9 143.8,412.2 143.2,413.4 142.8,412.5 142.2,413.7 141.8,412.5 141.2,412.7 140.8,412.8 140.2,412.5 139.8,412.5 139.2,413 138.8,412.6 138.2,413 137.8,413 137.2,412.8 136.8,414.5 136.2,413.7 135.8,413.6 135.2,413.5 134.8,413.3 134.2,412.7 133.8,413.2 133.2,414.1 132.8,412.7 132.2,413.8 131.8,412.9 131.2,413.8 130.8,413.6 130.2,413.1 129.8,413.5 129.2,413.9 128.8,412.9 128.2,414.1 127.8,414.7 127.2,413.1 126.8,413.1 126.2,413.9 125.8,413.1 125.2,414.6 124.8,415.1 124.2,413.3 123.8,414.3 123.2,413.2 122.8,414.6 122.2,414.7 121.8,414.6 121.2,414.1 120.8,415 120.2,414 119.8,416 119.2,415.7 118.8,414.1 118.2,414.1 117.8,414.6 117.2,413.7 116.8,414.5 116.2,414.7 115.8,414.5 115.2,414.7 114.8,416.1 114.2,415.7 113.8,415.2 113.2,414.5 112.8,414.1 112.2,415.8 111.8,414.5 111.2,414.4 110.8,414.3 110.2,415.7 109.8,414.6 109.2,414.7 108.8,414.7 108.2,414.7 107.8,414.7 107.2,415.2 106.8,415.6 106.2,414.6 105.8,414.7 105.2,415.6 104.8,415.5 104.2,414.8 103.8,416.1 103.2,414.9 102.8,414.8 102.2,415.5 101.8,415.3 101.2,416.1 100.8,416.6 100.2,415.2 99.8,415 99.2,416.4 98.8,416.2 98.2,416.7 97.8,415.5 97.2,416.2 96.8,416.3 96.2,415.8 95.8,415.3 95.2,416.4 94.8,416 94.2,415.7 93.8,415.7 93.2,416.2 92.8,415.7 92.2,415.7 91.8,416.6 91.2,416.8 90.8,416.5 90.2,416.1 89.8,416.8 89.2,416.3 88.8,418.2 88.2,416.6 87.8,417.3 87.2,416 86.8,415.9 86.2,417.5 85.8,417.2 85.2,417.3 84.8,416.2 84.2,416.3 83.8,417.5 83.2,416.3 82.8,416.8 82.2,418.5 81.8,416.4 81.2,416.8 80.8,416.8 80.2,417.3 79.8,417.8 79.2,417.1 78.8,416.5 78.2,417.2 77.8,416.6 77.2,417.3 76.8,416.8 76.2,418.1 75.8,418.1 75.2,416.7 74.8,417.1 74.2,416.9 73.8,416.8 73.2,416.9 72.8,416.9 72.2,417.7 71.8,418.4 71.2,417.4 70.8,418 70.2,417.7 69.8,418.4 69.2,418.3 68.8,418.1 68.2,418.4 67.8,417.2 67.2,418.5 66.8,418.1 66.2,417.6 65.8,418.5 65.2,417.8 64.8,417.7 64.2,417.8 63.8,417.9 63.2,417.7 62.8,418.5 62.2,418.2 61.8,418.1 61.2,417.6 60.8,417.6 60.2,418.8 59.8,418.2 59.2,420.1 58.8,417.7 58.2,418 57.8,418.3 57.2,418.4 56.8,417.9 56.2,418.6 55.8,418.2 55.2,418.5 54.8,418.5 54.2,418.3 53.8,418.1 53.2,419 52.8,418.4 52.2,419.8"/>
<path d="M54.5 245.6v-4.9M55.4 245.5v-2M56.3 245.4v-5.4M59 245.1v-5.1M60.8 245v-1.9M63.5 244.7v-2M64.4 244.6v-1.6M68 244.2v-1.5M68.9 244.1v-6.1M69.8 244v-3.7M70.7 243.9v-2.9M71.6 243.8v-1.1M74.3 243.6v-4.1M77 243.3v-2M78.8 243.1v-8.6M80.6 242.9v-1.8M81.5 242.8v-6.6M83.3 242.7v-3.5M85.1 242.5v-2.1M86 242.4v-5.4M86.9 242.3v-1.7M87.8 242.2v-1.7M88.7 242.1v-3.3M89.6 242v-3.2M91.4 241.8v-1.7M92.3 241.7v-2.7M95 241.4v-2M96.8 241.2v-2.6M97.7 241.1v-2.1M98.6 241v-8.8M99.5 240.9v-3M100.4 240.8v-3M102.2 240.7v-2.4M103.1 240.6v-4.3M104 240.5v-1.8M104.9 240.4v-4.5M105.8 240.3v-5.1M106.7 240.2v-1.4M107.6 240.1v-1.4M108.5 240v-3.4M110.3 239.9v-5M111.2 239.8v-4.2M112.1 239.7v-3.7M113 239.6v-2.3M113.9 239.6v-1.9M114.8 239.5v-1.4M115.7 239.4v-2.3M116.6 239.4v-2M117.5 239.3v-2.8M118.4 239.3v-1.1M119.3 239.2v-2.6M120.2 239.2v-4.1M121.1 239.1v-2.1M122 239.1v-1.4M122.9 239.1v-8M123.8 239v-3.6M124.7 239v-5.6M125.6 238.9v-2.1M127.4 238.8v-1.4M128.3 238.8v-4.5M129.2 238.8v-2.1M131 238.7v-3.8M133.7 238.6v-3M134.6 238.5v-2.7M136.4 238.5v-3.1M137.3 238.4v-1.1M138.2 238.4v-2.8M139.1 238.4v-3.8M140 238.3v-9M142.7 238.3v-4.3M143.6 238.3v-4.7M144.5 238.2v-3.1M145.4 238.2v-3.6M147.2 238.2v-1.4M148.1 238.2v-3.5M150.8 238.2v-2.6M151.7 238.2v-1.5M152.6 238.2v-1.7M153.5 238.3v-2.1M154.4 238.3v-2M155.3 238.4v-2M156.2 238.4v-1.9M157.1 238.5v-1.1M158 238.6v-1.7M159.8 238.8v-4M161.6 239v-3.5M162.5 239.1v-2.7M163.4 239.2v-1.1M164.3 239.3v-7.2M166.1 239.5v-2.2M167.9 239.8v-6.3M168.8 239.9v-2.7M169.7 240.1v-2.1M170.6 240.2v-1.8M172.4 240.5v-1.1M173.3 240.6v-2.5M174.2 240.7v-3M175.1 240.9v-1.5M176 241v-2.9M176.9 241.1v-4.6M178.7 241.3v-7.9M180.5 241.6v-3.6M181.4 241.7v-3.4M182.3 241.8v-6M184.1 242v-2.7M185.9 242.3v-1.1M186.8 242.4v-7.1M188.6 242.7v-1.3M190.4 243v-1.3M192.2 243.3v-7.1M193.1 243.4v-2.2M194 243.5v-2.2M194.9 243.7v-2.6M195.8 243.8v-2.3M196.7 244v-1.1M197.6 244.1v-9M198.5 244.2v-5.6M199.4 244.4v-1.1M200.3 244.5v-4.3M201.2 244.6v-2.3M202.1 244.7v-1.4M203 244.8v-7.3M203.9 245v-3.7M204.8 245.1v-5.2M205.7 245.2v-1.2M207.5 245.4v-1.5M208.4 245.4v-3.6M209.3 245.5v-5M210.2 245.6v-3.3M212 245.8v-4.4M217.4 246.2v-1.2M218.3 246.3v-5.7M221.9 246.5v-2.4M222.8 246.6v-6.6M223.7 246.7v-1.6M224.6 246.7v-1.9M228.2 246.9v-5.7M229.1 247v-3.9M230 247.1v-4.1M230.9 247.1v-5.8M232.7 247.2v-3.2M234.5 247.3v-3M235.4 247.4v-5.6M238.1 247.5v-2.1M239 247.6v-2.8M239.9 247.6v-3M240.8 247.6v-5.6M242.6 247.7v-8M243.5 247.8v-6.8M244.4 247.8v-3.4M245.3 247.9v-1.3M247.1 248v-1.8M248.9 248.1v-4.6M249.8 248.1v-8.6M250.7 248.2v-2.8M251.6 248.2v-3.4M252.5 248.3v-3.3M253.4 248.3v-2M255.2 248.4v-2.4M257.9 248.5v-3M258.8 248.6v-1.4M259.7 248.6v-3.1M260.6 248.6v-2.7M261.5 248.7v-3.3M262.4 248.7v-3.7M263.3 248.7v-2.5M266 248.8v-1.5M267.8 248.8v-3.1M268.7 248.9v-5.2M269.6 248.9v-1.8M271.4 248.9v-1.7M272.3 248.9v-2.5M273.2 248.9v-3.8M275 248.9v-1.8M276.8 248.9v-5.1M277.7 248.9v-1.7M278.6 248.8v-3.6M280.4 248.8v-1.3M281.3 248.8v-1.5M284.9 248.7v-1.3M285.8 248.7v-3.5M286.7 248.6v-4.2M287.6 248.6v-1.6M288.5 248.6v-2.3M289.4 248.5v-2.1M290.3 248.5v-5.5M293 248.3v-4.1M293.9 248.3v-3.4M294.8 248.3v-1.3M295.7 248.2v-2.1M296.6 248.2v-1.3M297.5 248.1v-1.2M300.2 248v-3.3M302 247.9v-1.8M303.8 247.8v-2.5M304.7 247.7v-2.7M305.6 247.6v-7.2M306.5 247.6v-1.4M307.4 247.5v-1.5M308.3 247.5v-1.6M310.1 247.4v-4.8M311 247.3v-3.8M312.8 247.2v-3.5M313.7 247.2v-5.1M314.6 247.1v-4.4M315.5 247.1v-2.4M316.4 247v-1.5M319.1 246.8v-1.3M320.9 246.7v-6.9M323.6 246.6v-2.5M324.5 246.5v-3.3M325.4 246.5v-1.8M326.3 246.4v-3.5M327.2 246.3v-3.9M328.1 246.3v-2.1M329 246.2v-2.4M330.8 246.1v-5.1M333.5 245.9v-2.3M334.4 245.8v-6.6M335.3 245.7v-3.9M337.1 245.6v-1.6M338 245.5v-3.1M340.7 245.3v-6M341.6 245.2v-3.9M343.4 245v-4M344.3 245v-2.3M347 244.7v-5.6M347.9 244.7v-4.7M349.7 244.5v-1.3M351.5 244.4v-4.7M357.8 243.9v-5.8M358.7 243.8v-3.6M359.6 243.8v-2.2M361.4 243.6v-3.3M362.3 243.6v-4M363.2 243.5v-1.1M365 243.4v-2.7M365.9 243.4v-3.6M366.8 243.3v-2.5M368.6 243.3v-5.5M369.5 243.2v-9M370.4 243.2v-2.4M372.2 243.1v-3.9M373.1 243.1v-1.9M374 243v-1.2M374.9 243v-5.8M375.8 243v-2.6M376.7 242.9v-1.6M377.6 242.9v-1.5M379.4 242.8v-1.3M380.3 242.8v-2.1M381.2 242.8v-1.5M383.9 242.7v-6.5M385.7 242.6v-2.7M386.6 242.6v-5.1M387.5 242.6v-1.5M389.3 242.5v-3.2M391.1 242.5v-2.7M392 242.5v-4.6M392.9 242.4v-4.6M393.8 242.4v-1.8M394.7 242.4v-1.7M395.6 242.4v-3M398.3 242.4v-4M399.2 242.4v-1.7M401 242.4v-1.4M401.9 242.4v-3.5M402.8 242.4v-3.3M403.7 242.4v-4.4M404.6 242.4v-9M405.5 242.4v-2M407.3 242.4v-3.2M408.2 242.4v-5.2M410.9 242.5v-1.3M411.8 242.5v-3.4M412.7 242.5v-1.2M414.5 242.5v-8.8M415.4 242.5v-4.9M416.3 242.5v-2.6M417.2 242.5v-9M418.1 242.5v-3.7M419 242.5v-4.3M419.9 242.6v-4.7M420.8 242.6v-1.5M421.7 242.6v-1.4M424.4 242.6v-1.2M425.3 242.6v-5.8M426.2 242.6v-2.3M427.1 242.6v-4.1M428 242.6v-1.2M428.9 242.6v-2.6M429.8 242.6v-1.5M432.5 242.6v-2.3M433.4 242.6v-2.7M435.2 242.6v-4.4M436.1 242.5v-1.2M437.9 242.5v-1.4M438.8 242.5v-1.8M441.5 242.4v-5.8M442.4 242.4v-3.8M443.3 242.4v-1.8M444.2 242.4v-1.9M445.1 242.3v-2M446 242.3v-1.2M446.9 242.3v-2.2M447.8 242.3v-3M448.7 242.2v-1.6M450.5 242.2v-1.8M451.4 242.2v-3.6M452.3 242.1v-4.8M453.2 242.1v-3.1M455 242.1v-2.5M456.8 242v-3.1M457.7 242v-3.3M458.6 242v-4.7M461.3 241.9v-3.3M462.2 241.8v-5.4M463.1 241.8v-1.2M466.7 241.7v-2.7M467.6 241.7v-3.9M468.5 241.6v-2.7M470.3 241.6v-3.1M471.2 241.5v-1.4M473 241.5v-1.1M473.9 241.4v-2.5M476.6 241.3v-2.5M477.5 241.3v-2.2M478.4 241.3v-3.3M479.3 241.2v-3.3M480.2 241.2v-1.5M481.1 241.2v-1M482 241.1v-2.3M482.9 241.1v-3.8M483.8 241.1v-2.6M484.7 241v-4.9M485.6 241v-1.9M486.5 241v-5.9M487.4 240.9v-3.5M488.3 240.9v-2.4M490.1 240.8v-1.9M491 240.8v-2M492.8 240.7v-1.6M493.7 240.7v-3M495.5 240.6v-3.9M497.3 240.6v-3.4M498.2 240.6v-3.5M499.1 240.5v-6.6M501.8 240.4v-4.2M503.6 240.4v-3.7M506.3 240.3v-4.2M507.2 240.3v-2.6M508.1 240.2v-1.7M509 240.2v-2.5M510.8 240.2v-2.4M511.7 240.1v-3.6M512.6 240.1v-1.4M513.5 240.1v-3.4M514.4 240v-4.3M515.3 240v-3.9M516.2 240v-2.8M517.1 240v-4.9M518.9 239.9v-3.7M522.5 239.8v-2.9M524.3 239.7v-1.9M525.2 239.7v-4.2M527 239.7v-4M527.9 239.7v-3.8M528.8 239.6v-1.6M530.6 239.6v-2.6M531.5 239.6v-5.7M533.3 239.5v-5.8M536 239.4v-1.5M538.7 239.4v-1.8M539.6 239.3v-1.2M541.4 239.3v-1.2M543.2 239.3v-1.9M545 239.2v-3.9M545.9 239.2v-1.9M546.8 239.2v-5.1M547.7 239.1v-4.6M548.6 239.1v-1.6M549.5 239.1v-3.4M551.3 239v-1.5M552.2 239v-2.7M553.1 239v-3.6M554 239v-3.7M554.9 239v-3M556.7 238.9v-9M559.4 238.9v-6.4M560.3 238.9v-4.6M561.2 238.9v-1.4M563 238.8v-5M563.9 238.8v-3.4M564.8 238.8v-4.8M565.7 238.8v-1M566.6 238.8v-2.5M567.5 238.8v-5.6M568.4 238.8v-4.9M569.3 238.8v-3.6M570.2 238.8v-1.8M571.1 238.8v-5.2M572 238.8v-1.9M572.9 238.8v-1.8M573.8 238.8v-2.2M574.7 238.8v-5.3M575.6 238.8v-3.7M579.2 238.8v-3.2M581 238.8v-4.2M581.9 238.8v-1.4M582.8 238.8v-1.3M583.7 238.8v-3.2M584.6 238.8v-3.8M585.5 238.8v-2.6M586.4 238.8v-3.4M587.3 238.8v-8.2M589.1 238.9v-1.4M590 238.9v-2.9M590.9 238.9v-6M591.8 238.9v-6.6M593.6 238.9v-1.9M594.5 238.9v-2M595.4 238.9v-8M596.3 238.9v-8.2M597.2 238.9v-2.6M598.1 238.9v-2.9M599 238.9v-3.5M599.9 238.9v-2.4M600.8 238.9v-2.2M601.7 238.9v-2.8M602.6 239v-2.1M603.5 239v-1.7M605.3 239v-5.1M606.2 239v-3.6M607.1 239v-3.7M608 239v-2.1M608.9 239v-2.6M611.6 239.1v-2.3M613.4 239.2v-2.4M614.3 239.3v-9M615.2 239.3v-3.3M617.9 239.5v-4.1M618.8 239.6v-2.3M619.7 239.7v-1.9M620.6 239.8v-2.7M621.5 239.9v-4M622.4 240v-2M624.2 240.1v-2.2M627.8 240.5v-9M629.6 240.7v-1.2M630.5 240.8v-2.6M631.4 240.9v-1.8M632.3 241v-1.2M633.2 241.1v-1.9M634.1 241.2v-2.8M635.9 241.4v-5.7M637.7 241.6v-3.6M639.5 241.8v-3.1M640.4 241.8v-4M641.3 241.9v-1.5M642.2 242v-1.8M643.1 242.1v-2.2M644 242.2v-1.6M644.9 242.3v-2.5M645.8 242.3v-1.3M648.5 242.6v-1.8M650.3 242.8v-1.4M651.2 242.9v-4.6M653.9 243.1v-2M655.7 243.3v-1.8M657.5 243.5v-5M659.3 243.7v-2M660.2 243.8v-2.8M661.1 243.9v-2.5M662 244v-4.5M662.9 244.1v-1.1M663.8 244.1v-3.2M664.7 244.2v-4.6M666.5 244.4v-1.5M667.4 244.5v-4M668.3 244.6v-2.4M669.2 244.7v-2.2M670.1 244.8v-4M671 244.9v-3M671.9 245v-5M673.7 245.2v-2.4M675.5 245.4v-5M676.4 245.5v-2.1M677.3 245.6v-2.6M678.2 245.7v-3.4M679.1 245.8v-1" stroke="#0000ff" stroke-opacity=".7" stroke-width=".75" fill="none"/>
<path d="M52.8 417.6v7.9M53.6 417.5v2.1M55.4 417.4v3.1M56.3 417.4v7.6M58.1 417.3v5M59 417.2v4.2M59.9 417.2v4.8M60.8 417.1v3.8M62.6 417v3M64.4 416.9v2.8M65.3 416.8v7.7M67.1 416.7v6.9M68 416.7v4M69.8 416.6v3.7M71.6 416.5v2.2M72.5 416.4v2.1M74.3 416.3v5.1M75.2 416.2v1.6M76.1 416.2v3.7M77.9 416.1v5.6M78.8 416v3.3M80.6 415.9v2.6M81.5 415.8v6M83.3 415.7v1.9M84.2 415.6v8.7M85.1 415.6v2.8M86 415.5v4.6M86.9 415.5v6.8M89.6 415.3v8.4M90.5 415.2v3.6M92.3 415.1v1.4M93.2 415v7.2M94.1 414.9v1.3M95 414.9v2.8M96.8 414.7v2.7M97.7 414.6v2.9M98.6 414.6v5.2M99.5 414.5v6.1M100.4 414.4v4M101.3 414.4v3.8M102.2 414.3v2.8M103.1 414.2v6.9M104.9 414.1v2.2M105.8 414v2.6M106.7 413.9v1.5M107.6 413.8v7M108.5 413.8v2.7M111.2 413.6v4.4M112.1 413.5v2.1M113 413.4v5.6M113.9 413.4v6.7M114.8 413.3v8.3M115.7 413.3v5.3M116.6 413.2v5.5M117.5 413.1v2M119.3 413v5.9M120.2 413v5.2M121.1 412.9v3.2M122 412.9v1.8M123.8 412.8v2.8M124.7 412.7v7M125.6 412.7v1.7M126.5 412.6v4.1M127.4 412.5v2.7M128.3 412.5v5.1M129.2 412.4v1.3M130.1 412.4v1.7M131 412.3v2.8M131.9 412.3v4.6M132.8 412.2v3.7M133.7 412.2v10M134.6 412.1v5.4M135.5 412.1v6.2M137.3 412v4.8M138.2 411.9v3.4M139.1 411.9v4.3M140 411.8v4M140.9 411.8v5.3M141.8 411.8v4.5M142.7 411.7v9.6M144.5 411.7v4.2M145.4 411.7v5.4M146.3 411.6v8.7M147.2 411.6v1.6M148.1 411.6v1.6M149 411.6v7.1M149.9 411.6v2M151.7 411.6v1.8M152.6 411.6v5.4M154.4 411.7v5.8M156.2 411.8v4.8M157.1 411.8v1.8M158.9 411.9v1.6M159.8 412v5.6M160.7 412v4.5M162.5 412.2v3.4M163.4 412.2v4M164.3 412.3v1.8M165.2 412.4v3.6M166.1 412.5v2.7M167 412.5v3.8M167.9 412.6v3.7M168.8 412.7v3.5M170.6 412.9v6.6M171.5 413v2M172.4 413.1v3.3M173.3 413.2v4.9M174.2 413.2v2M175.1 413.3v2.9M176.9 413.5v5.3M177.8 413.6v8.6M178.7 413.7v6.4M179.6 413.8v7.2M180.5 413.9v2.7M181.4 413.9v6.6M182.3 414v4.2M183.2 414.1v3M185 414.3v3.3M185.9 414.4v4.5M186.8 414.5v10M188.6 414.8v2.6M189.5 414.9v3.1M190.4 415v10M191.3 415.1v3.4M192.2 415.3v2.9M193.1 415.4v2.4M194 415.5v4.3M198.5 416.1v3.1M199.4 416.2v2.8M200.3 416.3v2.7M201.2 416.5v3.3M202.1 416.6v3.2M203 416.7v3.1M206.6 417.1v6.3M207.5 417.2v3.4M208.4 417.3v3.4M210.2 417.4v3.7M211.1 417.5v3.7M212 417.6v5.1M212.9 417.6v1.5M215.6 417.8v6.4M216.5 417.9v6.1M217.4 418v9.1M218.3 418v3.9M219.2 418.1v3.1M220.1 418.2v2.5M221 418.2v1.2M221.9 418.3v3.2M222.8 418.4v6M223.7 418.4v1.5M225.5 418.5v2.8M226.4 418.6v2M227.3 418.7v5.8M228.2 418.7v3.9M229.1 418.8v2.9M230 418.8v1.8M230.9 418.9v3.6M231.8 418.9v2.5M232.7 419v1.6M233.6 419v7.7M234.5 419.1v3M235.4 419.1v3.3M236.3 419.2v2.9M237.2 419.2v6.4M238.1 419.3v2.3M239 419.3v5.6M239.9 419.4v1.1M240.8 419.4v5.8M241.7 419.4v1.9M242.6 419.5v2.8M244.4 419.6v7M245.3 419.6v2.9M246.2 419.7v4.1M247.1 419.7v2.3M248 419.7v4.1M249.8 419.8v2M250.7 419.9v3.9M251.6 419.9v2.7M253.4 420v7.5M254.3 420.1v1.9M255.2 420.1v1.8M256.1 420.2v3.1M257 420.2v3M257.9 420.2v2.6M259.7 420.3v3.6M260.6 420.4v1.9M262.4 420.5v9.1M264.2 420.5v1.4M265.1 420.6v2.1M266 420.6v2.6M266.9 420.6v2.5M267.8 420.7v2.2M268.7 420.7v1.5M269.6 420.7v4.7M270.5 420.8v3.8M272.3 420.8v1.5M273.2 420.8v10M274.1 420.8v2.9M275 420.9v1.5M276.8 420.9v6.5M277.7 420.9v3.6M278.6 420.9v5.2M279.5 420.9v4.6M280.4 420.9v2.4M281.3 420.9v4M283.1 420.9v2.1M284 420.9v2.4M284.9 420.9v4.6M285.8 420.8v2M286.7 420.8v6.5M287.6 420.8v3.1M288.5 420.8v2.5M289.4 420.7v3.2M290.3 420.7v3.5M291.2 420.7v10M292.1 420.6v1.2M293 420.6v5.4M293.9 420.5v5.2M294.8 420.5v4.8M295.7 420.5v1.9M296.6 420.4v4.4M299.3 420.3v6.1M300.2 420.2v1.7M302 420.1v2M303.8 420v3.9M306.5 419.8v4.9M307.4 419.8v2.9M309.2 419.6v2.6M310.1 419.6v4.8M311 419.5v3.9M311.9 419.4v3.9M316.4 419.1v1.6M317.3 419.1v4.1M318.2 419v8.4M319.1 419v4.4M320 418.9v2.2M321.8 418.8v1.8M322.7 418.7v5.1M324.5 418.6v1.6M326.3 418.5v2.6M327.2 418.5v4.3M329.9 418.3v4.3M330.8 418.2v2.3M331.7 418.1v3.3M332.6 418.1v4.9M333.5 418v3M334.4 417.9v2.7M335.3 417.9v4.5M336.2 417.8v10M337.1 417.7v3.3M338.9 417.5v3.5M339.8 417.5v8.5M341.6 417.3v4.9M343.4 417.2v4.5M344.3 417.1v1.2M346.1 416.9v4.9M347.9 416.8v3.3M348.8 416.7v6.1M349.7 416.6v5.4M350.6 416.6v3.3M351.5 416.5v1.6M352.4 416.4v2M353.3 416.3v4.6M354.2 416.3v3.6M356 416.2v2.9M356.9 416.1v2M357.8 416v8.2M358.7 416v4.2M359.6 415.9v5M361.4 415.8v2.4M362.3 415.8v2.4M363.2 415.8v5.8M364.1 415.7v1.9M365 415.7v5.5M365.9 415.7v3.8M367.7 415.6v2.7M368.6 415.6v3.1M369.5 415.6v2.7M370.4 415.6v2.9M371.3 415.6v5.9M372.2 415.6v3.9M373.1 415.6v1.7M374 415.6v2M375.8 415.6v7.1M376.7 415.6v2.7M379.4 415.5v4.1M380.3 415.5v1.9M381.2 415.5v2.1M382.1 415.5v4.9M383 415.5v3.7M383.9 415.5v2.2M384.8 415.5v4.3M385.7 415.5v4.9M386.6 415.5v6.2M387.5 415.5v4.3M388.4 415.5v4M389.3 415.5v3.1M390.2 415.5v3.4M391.1 415.5v3.9M392 415.5v5.4M392.9 415.5v7M393.8 415.5v2.3M394.7 415.5v5.5M395.6 415.5v2.9M396.5 415.5v7.7M397.4 415.5v10M398.3 415.5v3.9M399.2 415.5v1.2M400.1 415.5v3.9M401 415.5v10M401.9 415.5v1.8M402.8 415.5v1.6M403.7 415.5v2M404.6 415.5v1.8M405.5 415.5v2.6M406.4 415.5v3.3M407.3 415.5v3.6M408.2 415.5v2.7M409.1 415.5v2.9M410.9 415.5v2.1M411.8 415.6v1.9M412.7 415.6v3.7M413.6 415.6v8.7M414.5 415.6v3.4M415.4 415.6v3.4M416.3 415.6v3.5M417.2 415.6v2.5M419 415.6v5.6M419.9 415.6v2.4M420.8 415.6v3.2M421.7 415.6v2.3M422.6 415.6v3.4M423.5 415.6v1.1M424.4 415.6v7.4M425.3 415.6v4.9M426.2 415.6v4.2M428 415.6v5.6M428.9 415.6v8.2M431.6 415.6v2.4M432.5 415.5v4M433.4 415.5v3.1M434.3 415.5v3.1M435.2 415.5v3.6M436.1 415.5v2.2M437 415.5v4.4M439.7 415.4v4.8M440.6 415.4v3.6M441.5 415.4v2.5M442.4 415.4v6.2M443.3 415.3v3.7M445.1 415.3v2M446 415.3v3.6M446.9 415.3v2.3M447.8 415.2v2.3M449.6 415.2v4.2M450.5 415.2v1.8M451.4 415.2v4.4M452.3 415.1v7.7M453.2 415.1v2.8M454.1 415.1v2.3M455 415.1v3.5M455.9 415v7M456.8 415v6.5M457.7 415v4.6M459.5 414.9v4.9M460.4 414.9v7.4M461.3 414.9v3.7M462.2 414.8v4.6M463.1 414.8v2.9M464 414.8v3.8M464.9 414.7v1.6M467.6 414.6v2M469.4 414.6v4.1M470.3 414.5v4.7M472.1 414.5v3M473 414.4v3.6M473.9 414.4v4.3M474.8 414.4v1.7M475.7 414.3v1.9M476.6 414.3v3.2M477.5 414.2v6.8M478.4 414.2v5.1M479.3 414.2v3.8M480.2 414.1v2.8M481.1 414.1v4.7M483.8 414v7.6M484.7 414v3.8M485.6 413.9v2.4M486.5 413.9v5.8M487.4 413.9v2.5M488.3 413.9v4.5M490.1 413.8v3.7M491 413.8v4M491.9 413.7v2.2M492.8 413.7v5M493.7 413.7v3.1M494.6 413.7v2.3M495.5 413.6v6.9M496.4 413.6v8.7M497.3 413.6v6.2M498.2 413.5v3.8M500.9 413.5v2.7M501.8 413.4v3.5M502.7 413.4v1.8M503.6 413.4v2.6M504.5 413.3v7.8M505.4 413.3v3.9M506.3 413.3v3.8M507.2 413.3v4.1M508.1 413.2v4.7M509 413.2v9.2M509.9 413.2v2.6M510.8 413.2v3.6M511.7 413.1v3.3M512.6 413.1v4.6M513.5 413.1v2.4M514.4 413.1v3.8M515.3 413v2.6M517.1 413v3.5M518 413v1.9M518.9 412.9v4.9M519.8 412.9v2.1M520.7 412.9v1.8M521.6 412.9v3.3M522.5 412.9v5.5M523.4 412.8v3.6M524.3 412.8v3.3M525.2 412.8v6.9M526.1 412.8v5.8M528.8 412.7v2.8M529.7 412.7v3.7M530.6 412.7v3.3M533.3 412.6v8.6M534.2 412.6v1.7M535.1 412.6v3M536.9 412.6v5.6M537.8 412.6v1.4M538.7 412.5v7.4M540.5 412.5v2.8M541.4 412.5v2.7M542.3 412.5v2.8M543.2 412.5v3.2M544.1 412.5v1.6M545 412.4v4.9M545.9 412.4v2.3M546.8 412.4v4.4M548.6 412.4v4.7M549.5 412.4v3.9M550.4 412.4v3.7M551.3 412.3v1.1M552.2 412.3v3.4M554 412.3v2.2M554.9 412.3v10M555.8 412.3v1.8M556.7 412.3v2.9M557.6 412.3v1.4M559.4 412.3v7.8M560.3 412.2v4.6M561.2 412.2v2.7M562.1 412.2v4.6M563.9 412.2v2.2M564.8 412.2v4.5M565.7 412.2v7.4M567.5 412.2v2M568.4 412.2v1.5M569.3 412.2v4.4M570.2 412.2v3.4M571.1 412.2v5.5M573.8 412.2v3.2M574.7 412.2v2.2M575.6 412.2v6.6M577.4 412.2v5.4M578.3 412.2v6.9M579.2 412.2v6.3M580.1 412.2v5.5M581 412.3v8.5M582.8 412.3v5.3M583.7 412.3v3.9M586.4 412.3v1.4M587.3 412.3v2.5M588.2 412.3v3.4M589.1 412.4v1.3M590.9 412.4v3.5M591.8 412.4v6.7M592.7 412.4v2.6M593.6 412.4v2.4M594.5 412.4v5.3M595.4 412.5v1.5M596.3 412.5v1.8M597.2 412.5v3M599 412.5v2.3M599.9 412.5v2.4M601.7 412.6v3.2M603.5 412.6v3.8M604.4 412.6v3.7M606.2 412.7v5M607.1 412.7v4.2M608 412.7v3.6M608.9 412.8v3.3M609.8 412.8v3.8M610.7 412.8v3.9M613.4 412.9v6.1M614.3 413v3.9M615.2 413v3.9M616.1 413.1v5.9M617 413.1v2.8M617.9 413.2v7.1M618.8 413.3v5.3M619.7 413.3v2.8M620.6 413.4v2.8M622.4 413.5v6.1M624.2 413.6v4.5M625.1 413.7v2.7M626 413.8v4.4M626.9 413.9v6.2M628.7 414v4.1M630.5 414.2v5.5M631.4 414.2v7.2M632.3 414.3v4.6M634.1 414.5v2.7M636.8 414.7v4.6M637.7 414.8v4.3M638.6 414.9v3.8M639.5 415v1.5M640.4 415v1.5M641.3 415.1v5.1M644 415.3v4.3M644.9 415.4v2.5M646.7 415.5v3.8M647.6 415.6v3.1M648.5 415.7v4.3M649.4 415.8v4.4M650.3 415.8v5.9M652.1 416v3.8M653 416v2.4M654.8 416.2v3.3M655.7 416.3v5.8M656.6 416.3v2.5M657.5 416.4v6.8M658.4 416.5v3.9M659.3 416.6v3.8M660.2 416.6v7.1M662 416.8v1.1M663.8 417v2.3M666.5 417.2v10M667.4 417.3v2.9M668.3 417.3v2.2M669.2 417.4v2.4M670.1 417.5v4.5M671.9 417.7v3.9M672.8 417.8v2.8M673.7 417.8v5.2M674.6 417.9v3M675.5 418v4.6M676.4 418.1v2.6M677.3 418.2v7.7M678.2 418.2v3M680 418.4v2.8" stroke="#0000ff" stroke-opacity=".75" stroke-width=".8" fill="none"/>
<path d="M208 245.4v-5M212.6 245.8v-5.8M215.2 246v-5.1M221.6 246.5v-5.8M223.7 246.7v-7.3M226.2 246.8v-6.2M229.3 247v-6.9M233.2 247.2v-6.3M234.9 247.3v-5.5M237.2 247.5v-6.4M239.5 247.6v-5.8M241.2 247.7v-7.7M243.1 247.8v-4.8M244.6 247.8v-6.5M246.3 247.9v-4.8M248.5 248.1v-4.9M250.6 248.2v-4.7M253.1 248.3v-7.2M255.7 248.4v-6.3M259.2 248.6v-6.8M271.6 248.9v-4.7M273.9 248.9v-5M275.8 248.9v-5.3M278 248.9v-4.6M279.8 248.8v-7.7M281.9 248.8v-6.8M283.5 248.7v-7M285.9 248.7v-6.7M288.2 248.6v-7.6M290.3 248.5v-5.1M297.5 248.1v-7.1M299.6 248v-7.1M301.8 247.9v-5.7M304.1 247.7v-7.7M306.9 247.6v-5.1M309 247.4v-5.7M311.1 247.3v-7.8M313.3 247.2v-6.6M315.6 247v-7.5M317.9 246.9v-6.8M319.7 246.8v-6.6M321.4 246.7v-7.8M323.9 246.6v-6.4M449 242.2v-6.9M452.2 242.1v-7.3M457.4 242v-5.3M460 241.9v-5.6M462.4 241.8v-7.3M465.3 241.7v-6.1M468 241.7v-6M470.1 241.6v-5.5M472.4 241.5v-5.8M474.7 241.4v-5.2M483.5 241.1v-6M485.9 241v-6.1M493.5 240.7v-6.9M495.4 240.7v-6M505 240.3v-4.8M514.8 240v-4.9M517.9 239.9v-4.2M64.5 244.6v-4.5M68.1 244.2v-6M78.4 243.2v-5M81.6 242.8v-6.4M85.1 242.5v-4.2M88.4 242.2v-5.5M91.3 241.8v-4.3M100.2 240.9v-6.3M103.5 240.5v-6.1M585 238.8v-5.6M587.7 238.8v-5M590.9 238.9v-6M597.2 238.9v-3.6" stroke="#0000ff" stroke-opacity=".62" stroke-width=".9" fill="none"/>
<path d="M215 417.8v5.2M217.2 418v7.4M219.8 418.1v7.8M221.7 418.3v5.9M224.5 418.5v7.9M229.3 418.8v7.7M237 419.2v5.8M245.2 419.6v6.4M247.4 419.7v4.3M249.9 419.8v7.7M252.3 420v7.7M260.8 420.4v4.5M263.9 420.5v4.6M266.3 420.6v6.4M268.8 420.7v5.1M272 420.8v4.5M274.2 420.8v8.2M276.8 420.9v7.5M281.6 420.9v7M284.5 420.9v4.5M286.7 420.8v4.6M289.9 420.7v7.4M292.6 420.6v6M295.3 420.5v6.8M297.1 420.4v8M567.9 412.2v5.6M570.6 412.2v5.7M573.3 412.2v6.3M575.6 412.2v8.5M581.3 412.3v6.1M583.6 412.3v4.8M587.1 412.3v4.3M590 412.4v7.4M592.3 412.4v7.5M594.4 412.4v6.9M596.8 412.5v4.4M601.5 412.6v6M603.6 412.6v5.7M605.7 412.7v6M608.2 412.7v4.4M611.4 412.8v5.8M616.1 413.1v8.9M617.9 413.2v5.8M620.6 413.4v4.6M622.8 413.5v6.8M627.8 413.9v8.2M636 414.6v7.6M639.3 414.9v4.5M372 415.6v4M377.4 415.6v5.5M380.1 415.5v6.2M382.6 415.5v6.1M385.9 415.5v3.5M394.6 415.5v3.6M397.7 415.5v6.7M400.7 415.5v4M403.7 415.5v4.1M406.6 415.5v6.6M409.3 415.5v3.7M412.2 415.6v5.3M418.5 415.6v6.8M420.4 415.6v4.2M423.9 415.6v5.6M426.9 415.6v6.5M429.6 415.6v6.9M433.2 415.5v5.4M436 415.5v5.3M438.7 415.4v4.6M441.1 415.4v4.6M444 415.3v6.8M446.7 415.3v5.6M452.4 415.1v4.7M455.1 415.1v5.9M458.1 415v4.3M461.2 414.9v3.6M464.4 414.8v5.7M467.3 414.7v4.7M469.8 414.6v3.7M52 417.6v5.9M53.9 417.5v5.7M55.7 417.4v6M57 417.3v4.7M58.7 417.2v5.8M60.5 417.1v4.9M64.2 416.9v6.8M66.3 416.8v6.8M68.6 416.6v6.7" stroke="#0000ff" stroke-opacity=".68" stroke-width=".9" fill="none"/>
<path d="M429.6 242.6L429.6 224.3M427.5 242.6L427.5 232M431.5 242.6L431.5 234M553 239L553 230M555.5 239L555.5 232.5M558 238.9L558 235M560.5 238.9L560.5 234M85 242.5L85 236M178.5 413.7L178.5 430M177.3 413.5L177.3 424M303 420L303 440.6M301.6 420.1L301.6 436M304.3 420L304.3 433M300.3 420.2L300.3 428M244 419.6L244 430M341 417.4L341 429M113 413.5L113 420M651 415.9L651 425M627 413.9L627 423M476 414.3L476 423M454 415.1L454 422" stroke="#0000ff" stroke-opacity=".6" stroke-width="1" fill="none"/>
<polygon fill="#edb120" points="52.2,253.8 52.8,254.3 53.2,253 53.8,254.1 54.2,253.4 54.8,254.4 55.2,253.8 55.8,253.5 56.2,254 56.8,253.7 57.2,253.3 57.8,253.8 58.2,253.3 58.8,252.9 59.2,254.2 59.8,253.3 60.2,253.2 60.8,253.5 61.2,252.9 61.8,252.9 62.2,253.2 62.8,253.2 63.2,253.4 63.8,253.7 64.2,253.1 64.8,253.5 65.2,253.5 65.8,252.9 66.2,253.3 66.8,252.9 67.2,253.6 67.8,253.4 68.2,253.2 68.8,252.7 69.2,253.2 69.8,252.9 70.2,253.4 70.8,253.1 71.2,252.8 71.8,253.4 72.2,253.3 72.8,252.8 73.2,253.4 73.8,252.9 74.2,252.9 74.8,253 75.2,252.7 75.8,252.8 76.2,252.9 76.8,253.4 77.2,253.4 77.8,252.8 78.2,253.4 78.8,252.8 79.2,252.9 79.8,253.1 80.2,252.9 80.8,253.6 81.2,252.8 81.8,252.3 82.2,253.2 82.8,252.5 83.2,252.6 83.8,251.6 84.2,253 84.8,252.9 85.2,252.9 85.8,252.9 86.2,253.1 86.8,252.5 87.2,252.8 87.8,252.2 88.2,252.4 88.8,252.8 89.2,252.6 89.8,252 90.2,252.5 90.8,252.3 91.2,252.1 91.8,252.5 92.2,252.2 92.8,251.8 93.2,251.9 93.8,252.9 94.2,251.7 94.8,252.3 95.2,252.4 95.8,252.4 96.2,251.8 96.8,252.1 97.2,252.2 97.8,252.4 98.2,251.9 98.8,251.7 99.2,252.4 99.8,252.4 100.2,252.2 100.8,251.8 101.2,252.1 101.8,252 102.2,252.2 102.8,251.5 103.2,252 103.8,251.8 104.2,251.5 104.8,251.9 105.2,251.8 105.8,251.7 106.2,251.9 106.8,251.3 107.2,251.7 107.8,251.9 108.2,251.8 108.8,252.1 109.2,251.2 109.8,251.1 110.2,251.7 110.8,251.8 111.2,252.3 111.8,251.8 112.2,251.2 112.8,251.8 113.2,251.2 113.8,251 114.2,252.4 114.8,251.5 115.2,251.7 115.8,251.6 116.2,252 116.8,251.4 117.2,251.8 117.8,250.9 118.2,250.8 118.8,251.8 119.2,251.8 119.8,251.4 120.2,251.3 120.8,251.2 121.2,250.9 121.8,251.7 122.2,251.3 122.8,251.2 123.2,251.2 123.8,251.4 124.2,251.1 124.8,251.2 125.2,250.5 125.8,251.1 126.2,251.6 126.8,250.6 127.2,250.7 127.8,251.1 128.2,251 128.8,250.9 129.2,250.1 129.8,250.8 130.2,250.1 130.8,250.2 131.2,250.7 131.8,250.4 132.2,250.7 132.8,251.5 133.2,250.6 133.8,250.6 134.2,250 134.8,250 135.2,249.8 135.8,250 136.2,249.8 136.8,249.9 137.2,250 137.8,249.7 138.2,249.5 138.8,249.5 139.2,250.1 139.8,249.9 140.2,250.3 140.8,250.2 141.2,249.7 141.8,250.1 142.2,249.3 142.8,250.6 143.2,250.2 143.8,249.7 144.2,249.3 144.8,249.8 145.2,249 145.8,249.4 146.2,249.9 146.8,249.7 147.2,249.5 147.8,250 148.2,249.2 148.8,249.7 149.2,249.4 149.8,249.3 150.2,249.8 150.8,249.3 151.2,250.3 151.8,249.4 152.2,250.3 152.8,249.2 153.2,249.8 153.8,249.2 154.2,249.2 154.8,249.7 155.2,249.9 155.8,249.3 156.2,250.1 156.8,249.5 157.2,249.8 157.8,249.9 158.2,250 158.8,249.2 159.2,250.4 159.8,250.1 160.2,249.7 160.8,249.6 161.2,249.4 161.8,249.5 162.2,250.2 162.8,249.9 163.2,249.7 163.8,249.9 164.2,250.7 164.8,250 165.2,250 165.8,250.7 166.2,250.4 166.8,250.3 167.2,250.1 167.8,249.8 168.2,250 168.8,250.3 169.2,250.4 169.8,250.6 170.2,250.7 170.8,250.6 171.2,250.7 171.8,250.3 172.2,249.9 172.8,250.5 173.2,250.4 173.8,250.6 174.2,250.7 174.8,250.4 175.2,250.5 175.8,250.9 176.2,251 176.8,250.8 177.2,251.2 177.8,251 178.2,250.7 178.8,251.1 179.2,251.8 179.8,250.9 180.2,251.6 180.8,251.7 181.2,251.8 181.8,251 182.2,252 182.8,251.4 183.2,251.3 183.8,251.4 184.2,251.7 184.8,251.5 185.2,251.5 185.8,252 186.2,251.4 186.8,251.3 187.2,252 187.8,252 188.2,252.1 188.8,251.4 189.2,252.2 189.8,252 190.2,252.5 190.8,251.5 191.2,252.1 191.8,251.9 192.2,251.5 192.8,251.8 193.2,252.5 193.8,252 194.2,251.9 194.8,252.5 195.2,252.6 195.8,252.7 196.2,252.1 196.8,252.4 197.2,252.8 197.8,252.2 198.2,252.2 198.8,252.8 199.2,253.1 199.8,252.2 200.2,251.7 200.8,252.2 201.2,252.4 201.8,252.7 202.2,253 202.8,252.8 203.2,252.6 203.8,252.9 204.2,252.6 204.8,252.9 205.2,252.8 205.8,253.9 206.2,253.3 206.8,252.8 207.2,252.8 207.8,253 208.2,252.6 208.8,252.9 209.2,253 209.8,253.6 210.2,253.1 210.8,253 211.2,252.9 211.8,252.9 212.2,253.4 212.8,253.3 213.2,253.8 213.8,253.2 214.2,253.9 214.8,253.6 215.2,253.5 215.8,252.9 216.2,253.1 216.8,253.9 217.2,254.1 217.8,253.7 218.2,254 218.8,253.6 219.2,253.6 219.8,253.5 220.2,254.1 220.8,253.9 221.2,253.8 221.8,253.7 222.2,254.1 222.8,254 223.2,253.6 223.8,254.6 224.2,254.1 224.8,254 225.2,254.5 225.8,254.4 226.2,254 226.8,254.3 227.2,253.7 227.8,253.9 228.2,253.4 228.8,254.6 229.2,253.5 229.8,254.5 230.2,254 230.8,253.9 231.2,254.2 231.8,254.4 232.2,254.5 232.8,255 233.2,254.5 233.8,254.7 234.2,254.2 234.8,254.7 235.2,254.5 235.8,254.3 236.2,254.4 236.8,254.5 237.2,254.6 237.8,254.7 238.2,254.4 238.8,254.3 239.2,254.8 239.8,254 240.2,254.4 240.8,255.2 241.2,253.7 241.8,254.4 242.2,254.9 242.8,254.1 243.2,255.6 243.8,253.8 244.2,255.2 244.8,255.3 245.2,255.1 245.8,254.7 246.2,254.9 246.8,254.5 247.2,255.1 247.8,254.5 248.2,254.8 248.8,255.2 249.2,254.5 249.8,254.8 250.2,255 250.8,254.5 251.2,255.4 251.8,255.1 252.2,254.5 252.8,255 253.2,254.8 253.8,254.8 254.2,255.1 254.8,254.8 255.2,255.4 255.8,254.9 256.2,255.5 256.8,255.1 257.2,255.5 257.8,255 258.2,255 258.8,254.8 259.2,255.4 259.8,255.5 260.2,256 260.8,255.7 261.2,255.3 261.8,255.2 262.2,255.4 262.8,255.3 263.2,255.8 263.8,255.6 264.2,255 264.8,255.1 265.2,255.8 265.8,255.4 266.2,255.3 266.8,255.8 267.2,255.2 267.8,255.3 268.2,255.2 268.8,254.7 269.2,255.7 269.8,255 270.2,255.2 270.8,255.1 271.2,255.7 271.8,255.4 272.2,255.4 272.8,254.8 273.2,255.4 273.8,254.9 274.2,255.5 274.8,255.5 275.2,255.4 275.8,256.1 276.2,255.6 276.8,255.6 277.2,255.4 277.8,255.3 278.2,255.7 278.8,255.8 279.2,254.9 279.8,255.8 280.2,255.6 280.8,255.7 281.2,255.5 281.8,254.9 282.2,255 282.8,256 283.2,255.5 283.8,254.9 284.2,255.5 284.8,255.2 285.2,254.7 285.8,254.5 286.2,254.8 286.8,255.4 287.2,255.3 287.8,255.2 288.2,255.4 288.8,255.5 289.2,254.6 289.8,255.2 290.2,255 290.8,254.9 291.2,255.1 291.8,255.2 292.2,255.2 292.8,254.8 293.2,255.1 293.8,256 294.2,254.9 294.8,254.7 295.2,255.4 295.8,255.5 296.2,255.4 296.8,254.8 297.2,255.6 297.8,255 298.2,254.8 298.8,255 299.2,255.2 299.8,255.5 300.2,255.4 300.8,255.2 301.2,255.5 301.8,255.2 302.2,255.5 302.8,254.7 303.2,254.6 303.8,255.4 304.2,254.7 304.8,255 305.2,255.1 305.8,255 306.2,255 306.8,255.6 307.2,254.2 307.8,255.4 308.2,255.9 308.8,255.1 309.2,255.1 309.8,255.3 310.2,255.7 310.8,254.7 311.2,255.1 311.8,255 312.2,255.3 312.8,255.1 313.2,255.3 313.8,254.9 314.2,255.1 314.8,254.8 315.2,254.8 315.8,255 316.2,255 316.8,254.6 317.2,255.6 317.8,255 318.2,254.5 318.8,255.4 319.2,254.7 319.8,255.2 320.2,255 320.8,255.1 321.2,255.1 321.8,254.8 322.2,255 322.8,255.7 323.2,254.2 323.8,255 324.2,255.1 324.8,254.6 325.2,254.5 325.8,255.7 326.2,254.8 326.8,255.7 327.2,255.1 327.8,255 328.2,255.1 328.8,255.2 329.2,255.3 329.8,255.1 330.2,255 330.8,255 331.2,255.4 331.8,255.2 332.2,254.6 332.8,254.7 333.2,255 333.8,254.7 334.2,254.8 334.8,254.6 335.2,254.8 335.8,255 336.2,255.2 336.8,254.9 337.2,255.6 337.8,254.8 338.2,256 338.8,255.2 339.2,255 339.8,254.7 340.2,253.9 340.8,254.8 341.2,254.9 341.8,255.5 342.2,254.3 342.8,255.5 343.2,254.7 343.8,255.1 344.2,253.9 344.8,254.9 345.2,254.7 345.8,255 346.2,254.8 346.8,254.4 347.2,255.1 347.8,255 348.2,255 348.8,255.1 349.2,255.2 349.8,254.8 350.2,254.3 350.8,254.3 351.2,255.2 351.8,255 352.2,254.8 352.8,254.6 353.2,254.8 353.8,254.8 354.2,254.6 354.8,254.5 355.2,255.5 355.8,254.8 356.2,254.5 356.8,254.3 357.2,254.5 357.8,255 358.2,255 358.8,254.6 359.2,254.7 359.8,254.6 360.2,254.3 360.8,255.2 361.2,254.8 361.8,255.6 362.2,254.4 362.8,254.7 363.2,255 363.8,254.6 364.2,254.2 364.8,254.4 365.2,254.7 365.8,254.8 366.2,254.7 366.8,255.1 367.2,255 367.8,254.8 368.2,254.7 368.8,254.6 369.2,254.9 369.8,255 370.2,254.7 370.8,254.9 371.2,254.6 371.8,254.2 372.2,254.4 372.8,255 373.2,254.9 373.8,255.4 374.2,254.9 374.8,255.2 375.2,255.4 375.8,255.3 376.2,254.8 376.8,255 377.2,255.1 377.8,254.8 378.2,255.3 378.8,255.6 379.2,255.1 379.8,256 380.2,255.3 380.8,255.4 381.2,255.4 381.8,255.3 382.2,255.8 382.8,255.7 383.2,256.3 383.8,256 384.2,256.1 384.8,255.9 385.2,255.5 385.8,256 386.2,255.8 386.8,256.5 387.2,256.2 387.8,256.9 388.2,256.6 388.8,256.7 389.2,256.5 389.8,256.6 390.2,256.8 390.8,256.9 391.2,256.4 391.8,256.9 392.2,257.7 392.8,256.8 393.2,256.7 393.8,256.6 394.2,256.4 394.8,257.3 395.2,257 395.8,257.1 396.2,257.6 396.8,257.9 397.2,256.7 397.8,257.4 398.2,257.2 398.8,257.1 399.2,257.2 399.8,257 400.2,257.5 400.8,257.2 401.2,257.1 401.8,257.4 402.2,257.3 402.8,257.1 403.2,257 403.8,257.5 404.2,257.1 404.8,256.8 405.2,256.6 405.8,256.7 406.2,256.4 406.8,256.8 407.2,256.9 407.8,256 408.2,256.7 408.8,256.9 409.2,256.7 409.8,256.3 410.2,257.1 410.8,256.3 411.2,256.1 411.8,256.1 412.2,256.5 412.8,256.8 413.2,256.8 413.8,256.5 414.2,255.9 414.8,256.1 415.2,256 415.8,256.2 416.2,255.6 416.8,256.2 417.2,256.4 417.8,256.1 418.2,256.2 418.8,255.7 419.2,255.5 419.8,255.7 420.2,256.3 420.8,256.2 421.2,255.7 421.8,256.2 422.2,255.7 422.8,256.3 423.2,255.9 423.8,255.5 424.2,255.9 424.8,255.3 425.2,255.2 425.8,255 426.2,255.6 426.8,255.4 427.2,255.4 427.8,255.2 428.2,255.8 428.8,255.1 429.2,255 429.8,255.7 430.2,255.7 430.8,255.3 431.2,254.5 431.8,254.9 432.2,255.2 432.8,255 433.2,255.5 433.8,254.4 434.2,255.1 434.8,254.6 435.2,255.2 435.8,254.7 436.2,255 436.8,254.4 437.2,254.1 437.8,254.2 438.2,254.3 438.8,254.1 439.2,254.8 439.8,254.8 440.2,254.4 440.8,253.9 441.2,254.2 441.8,253.9 442.2,254.6 442.8,254.2 443.2,254.2 443.8,253.8 444.2,253.2 444.8,253.6 445.2,253.5 445.8,253.9 446.2,253.8 446.8,253.5 447.2,253.6 447.8,254.2 448.2,253.3 448.8,253.3 449.2,253.5 449.8,253.3 450.2,253.3 450.8,253.6 451.2,254 451.8,252.8 452.2,253.4 452.8,253.3 453.2,253.3 453.8,253.2 454.2,253.1 454.8,253.6 455.2,253 455.8,253.1 456.2,253.1 456.8,253.1 457.2,253 457.8,253.4 458.2,253 458.8,253.1 459.2,252.9 459.8,252.6 460.2,252.6 460.8,252.5 461.2,252.9 461.8,252.6 462.2,252.4 462.8,252.9 463.2,252.9 463.8,252.1 464.2,253.3 464.8,252.7 465.2,252.6 465.8,253 466.2,252.6 466.8,252.4 467.2,253.3 467.8,252.2 468.2,252.5 468.8,252.8 469.2,252.1 469.8,252.4 470.2,252.5 470.8,253.2 471.2,252.1 471.8,252.3 472.2,252.6 472.8,252.3 473.2,251.9 473.8,252.4 474.2,252.3 474.8,252.4 475.2,252.6 475.8,252.5 476.2,252.3 476.8,252.2 477.2,251.7 477.8,252 478.2,252.1 478.8,251.9 479.2,252.1 479.8,251.7 480.2,252.5 480.8,252.7 481.2,251.8 481.8,252.1 482.2,251.8 482.8,252.3 483.2,252 483.8,251.9 484.2,251.7 484.8,251.8 485.2,251.4 485.8,252 486.2,251.5 486.8,251.9 487.2,251.7 487.8,252.1 488.2,251.6 488.8,252 489.2,251.3 489.8,251.8 490.2,251.5 490.8,251.6 491.2,251.6 491.8,251.8 492.2,250.8 492.8,251.6 493.2,250.9 493.8,251.9 494.2,250.7 494.8,251 495.2,250.8 495.8,251.9 496.2,250.9 496.8,251.4 497.2,251.1 497.8,250.7 498.2,251.1 498.8,251.5 499.2,251.2 499.8,251.5 500.2,251.1 500.8,251.2 501.2,251 501.8,251.3 502.2,251.8 502.8,251.2 503.2,251.1 503.8,250.8 504.2,250.8 504.8,251.5 505.2,250.6 505.8,250.7 506.2,250.9 506.8,250.8 507.2,251.6 507.8,250.1 508.2,251 508.8,251.1 509.2,250.5 509.8,250.6 510.2,251 510.8,251.4 511.2,250.5 511.8,250.2 512.2,251.1 512.8,251.3 513.2,250.6 513.8,249.9 514.2,251.2 514.8,250.6 515.2,251 515.8,250.6 516.2,250.5 516.8,250.4 517.2,251.1 517.8,251.1 518.2,249.8 518.8,250.2 519.2,251.1 519.8,250.4 520.2,250 520.8,250.5 521.2,250.4 521.8,250.4 522.2,250.3 522.8,250.3 523.2,250.2 523.8,250.5 524.2,250.1 524.8,250.3 525.2,250.3 525.8,250.8 526.2,250.4 526.8,250.3 527.2,250.5 527.8,250.4 528.2,250.6 528.8,250.4 529.2,250.8 529.8,250.7 530.2,250.2 530.8,250 531.2,250.5 531.8,250.3 532.2,250.1 532.8,249.6 533.2,249.5 533.8,250.2 534.2,250.3 534.8,250.3 535.2,249.6 535.8,250.4 536.2,249.8 536.8,250.1 537.2,250.1 537.8,249.7 538.2,249.7 538.8,249.2 539.2,249.6 539.8,249.3 540.2,250 540.8,249.9 541.2,250.2 541.8,250 542.2,249.6 542.8,249.9 543.2,249.7 543.8,250 544.2,249.9 544.8,249.4 545.2,249.7 545.8,249.7 546.2,249.6 546.8,250 547.2,250.3 547.8,249.5 548.2,249.5 548.8,248.8 549.2,249.6 549.8,249.5 550.2,248.8 550.8,249.7 551.2,249.8 551.8,249.3 552.2,249.4 552.8,249.2 553.2,249.8 553.8,249 554.2,249.4 554.8,250.2 555.2,249.5 555.8,249.6 556.2,249.4 556.8,249 557.2,249.4 557.8,249.5 558.2,249 558.8,249.5 559.2,249.8 559.8,249.7 560.2,248.8 560.8,249 561.2,248.8 561.8,249.7 562.2,249.5 562.8,249.5 563.2,249 563.8,248.9 564.2,249.3 564.8,249.3 565.2,249 565.8,249.3 566.2,249.5 566.8,249.3 567.2,248.9 567.8,248.5 568.2,249.1 568.8,249.3 569.2,249.1 569.8,249.1 570.2,249 570.8,249.4 571.2,249.2 571.8,249.2 572.2,248.8 572.8,249 573.2,249.2 573.8,248.8 574.2,248.7 574.8,249 575.2,249.6 575.8,249.2 576.2,249.7 576.8,249.1 577.2,249 577.8,248.6 578.2,248.9 578.8,249.6 579.2,249.2 579.8,249.4 580.2,249.4 580.8,249.1 581.2,249 581.8,249.1 582.2,249.3 582.8,249.3 583.2,249.3 583.8,249.1 584.2,248.8 584.8,249 585.2,248.8 585.8,249.4 586.2,248.3 586.8,249 587.2,249.9 587.8,248.9 588.2,248.7 588.8,249.1 589.2,249.5 589.8,249 590.2,249.3 590.8,249.1 591.2,248.9 591.8,250.1 592.2,249.1 592.8,248.8 593.2,248.9 593.8,249.2 594.2,249.2 594.8,249.3 595.2,249.1 595.8,248.5 596.2,249.2 596.8,248.9 597.2,248.9 597.8,248.5 598.2,248.8 598.8,248.8 599.2,249 599.8,248.5 600.2,249 600.8,249.1 601.2,248.6 601.8,248.8 602.2,248.7 602.8,249.3 603.2,248.1 603.8,248.9 604.2,248.4 604.8,248.8 605.2,249.3 605.8,248.8 606.2,249 606.8,248.7 607.2,249.7 607.8,249.3 608.2,249.4 608.8,248.5 609.2,248.6 609.8,249.4 610.2,249 610.8,249 611.2,249.2 611.8,248.6 612.2,249.4 612.8,249.1 613.2,249.3 613.8,248.9 614.2,249.3 614.8,248.9 615.2,249.5 615.8,249.6 616.2,249.6 616.8,249.4 617.2,249.5 617.8,248.4 618.2,249.6 618.8,249.3 619.2,249.4 619.8,249.3 620.2,249 620.8,249.3 621.2,249.7 621.8,250 622.2,249.4 622.8,249.3 623.2,250.1 623.8,249.4 624.2,250.4 624.8,249.8 625.2,249.5 625.8,250.1 626.2,250.4 626.8,249.4 627.2,250.5 627.8,249.8 628.2,250.5 628.8,249.9 629.2,249.5 629.8,250.3 630.2,250.5 630.8,250.9 631.2,250.8 631.8,250.5 632.2,250.2 632.8,250.1 633.2,250.2 633.8,250.1 634.2,250.3 634.8,249.6 635.2,250.6 635.8,250.5 636.2,251.5 636.8,250.9 637.2,250.5 637.8,250.9 638.2,250.3 638.8,250.5 639.2,250.1 639.8,251.3 640.2,251 640.8,250.4 641.2,250.9 641.8,251.2 642.2,251.1 642.8,251.1 643.2,250.7 643.8,250.8 644.2,251.1 644.8,251.4 645.2,250.8 645.8,250.8 646.2,251.6 646.8,250.9 647.2,251.6 647.8,251.4 648.2,251.6 648.8,252 649.2,251.6 649.8,251.7 650.2,251.1 650.8,251.2 651.2,251.7 651.8,252.1 652.2,252.1 652.8,252.4 653.2,251.7 653.8,251.7 654.2,252.1 654.8,251.7 655.2,251.7 655.8,251.4 656.2,252.2 656.8,251.5 657.2,252.1 657.8,251.4 658.2,252.4 658.8,251.6 659.2,252.3 659.8,251.5 660.2,251.9 660.8,252.6 661.2,251.9 661.8,252.2 662.2,252.1 662.8,251.5 663.2,252.4 663.8,252.5 664.2,252 664.8,252.6 665.2,252.2 665.8,252.1 666.2,252.5 666.8,252.3 667.2,253.4 667.8,252.1 668.2,252.9 668.8,253 669.2,252 669.8,252.2 670.2,253 670.8,252.7 671.2,253 671.8,253.3 672.2,252.8 672.8,252.6 673.2,252.1 673.8,253.1 674.2,252.8 674.8,253.2 675.2,253.3 675.8,252.7 676.2,253.8 676.8,253.7 677.2,253.6 677.8,252.9 678.2,253.3 678.8,253.2 679.2,253.3 679.8,253.1 680.2,253.7 680.2,412.5 679.8,412.3 679.2,412.2 678.8,412.9 678.2,411.9 677.8,412.3 677.2,411.7 676.8,412.3 676.2,412.4 675.8,411.8 675.2,412 674.8,412 674.2,411.9 673.8,411.7 673.2,411.7 672.8,411.3 672.2,412 671.8,411.9 671.2,411.7 670.8,411.9 670.2,411.9 669.8,411.7 669.2,411.6 668.8,411.5 668.2,411.5 667.8,411.7 667.2,411.8 666.8,411.9 666.2,411.4 665.8,411.8 665.2,411.4 664.8,410.8 664.2,411.5 663.8,411.8 663.2,411.4 662.8,411 662.2,411.5 661.8,411 661.2,411 660.8,410.8 660.2,411.2 659.8,411.1 659.2,410.7 658.8,411.2 658.2,410.9 657.8,411.2 657.2,410.8 656.8,411.1 656.2,411.1 655.8,410.8 655.2,411.1 654.8,411.2 654.2,410.5 653.8,410.9 653.2,410.4 652.8,410.6 652.2,411 651.8,410.5 651.2,411.1 650.8,410.4 650.2,410.4 649.8,410.8 649.2,409.6 648.8,410.3 648.2,411 647.8,410.3 647.2,410.8 646.8,409.9 646.2,410 645.8,410 645.2,410.2 644.8,410.7 644.2,409.3 643.8,409.4 643.2,409.9 642.8,410.6 642.2,409.8 641.8,410.3 641.2,410.2 640.8,409.7 640.2,409.8 639.8,409.1 639.2,409.9 638.8,409.5 638.2,409.9 637.8,409.6 637.2,409.7 636.8,410.1 636.2,409.3 635.8,409 635.2,410 634.8,409.4 634.2,409.9 633.8,409.3 633.2,409.5 632.8,409.5 632.2,409.5 631.8,409.4 631.2,409.4 630.8,409.3 630.2,409.8 629.8,408.9 629.2,408.9 628.8,409.3 628.2,409.1 627.8,409.1 627.2,409.3 626.8,409.2 626.2,409.1 625.8,409.2 625.2,409.4 624.8,408.9 624.2,409.2 623.8,409.3 623.2,408.9 622.8,408.8 622.2,409 621.8,408.2 621.2,409 620.8,409.4 620.2,408.9 619.8,408.6 619.2,409.4 618.8,408.8 618.2,408.7 617.8,408.9 617.2,409 616.8,408.7 616.2,408.6 615.8,408.4 615.2,408.3 614.8,407.5 614.2,408.9 613.8,408.9 613.2,408.7 612.8,408.5 612.2,408.8 611.8,408.8 611.2,408.7 610.8,408.4 610.2,408.5 609.8,408.8 609.2,408.9 608.8,408.3 608.2,408.4 607.8,409.5 607.2,408.4 606.8,408.8 606.2,408.4 605.8,408.2 605.2,408.7 604.8,408.9 604.2,408.8 603.8,408.9 603.2,408.3 602.8,408.5 602.2,408.4 601.8,408.4 601.2,409 600.8,408.2 600.2,408.7 599.8,409.1 599.2,409 598.8,408.4 598.2,409 597.8,408.9 597.2,408.3 596.8,408.7 596.2,408.5 595.8,408 595.2,407.3 594.8,408.5 594.2,408.6 593.8,408.4 593.2,409.3 592.8,408.9 592.2,408.8 591.8,408.9 591.2,408.5 590.8,408.9 590.2,408.8 589.8,409.1 589.2,408.2 588.8,408.3 588.2,408.6 587.8,408.2 587.2,408.4 586.8,408.4 586.2,407.9 585.8,408.8 585.2,408.3 584.8,408.5 584.2,408.7 583.8,408.8 583.2,408.3 582.8,408.2 582.2,408.5 581.8,408.5 581.2,409.3 580.8,408.4 580.2,408.5 579.8,408.8 579.2,408.4 578.8,408.7 578.2,408.3 577.8,407.7 577.2,409.1 576.8,408.1 576.2,408.5 575.8,408.8 575.2,408.3 574.8,409.1 574.2,408.3 573.8,408.6 573.2,408.7 572.8,408.7 572.2,408.5 571.8,407.7 571.2,408.5 570.8,409.2 570.2,408.6 569.8,408.8 569.2,408.4 568.8,408.3 568.2,408.7 567.8,408.7 567.2,408.9 566.8,409 566.2,409.1 565.8,408.3 565.2,409.1 564.8,409.4 564.2,408.6 563.8,408.2 563.2,409 562.8,408.6 562.2,408 561.8,409.4 561.2,408.9 560.8,408.9 560.2,408.4 559.8,408.7 559.2,409.1 558.8,408.9 558.2,409.2 557.8,408.9 557.2,409.3 556.8,408.6 556.2,409.2 555.8,408.3 555.2,409.1 554.8,408.8 554.2,408.6 553.8,408.8 553.2,408.6 552.8,409 552.2,409.2 551.8,408.2 551.2,409.7 550.8,409 550.2,408.9 549.8,408.7 549.2,408.8 548.8,408.6 548.2,409.3 547.8,409.6 547.2,408.9 546.8,408.9 546.2,408.9 545.8,409.5 545.2,409.2 544.8,409.2 544.2,409 543.8,409.2 543.2,409.5 542.8,408.6 542.2,409.5 541.8,408.8 541.2,408.7 540.8,409.2 540.2,409.1 539.8,409 539.2,409.5 538.8,409.6 538.2,409.3 537.8,409.4 537.2,409.1 536.8,409.2 536.2,409.6 535.8,409 535.2,408.9 534.8,409.7 534.2,409.5 533.8,408.9 533.2,408.6 532.8,409.3 532.2,409 531.8,409.6 531.2,409.3 530.8,409.1 530.2,409.1 529.8,409.7 529.2,409.8 528.8,409.1 528.2,409 527.8,409.3 527.2,409.3 526.8,409.8 526.2,409.4 525.8,409.2 525.2,409.5 524.8,410 524.2,409.9 523.8,409.9 523.2,409 522.8,409 522.2,410 521.8,409.3 521.2,409.7 520.8,410.1 520.2,410 519.8,409.5 519.2,409.6 518.8,409.4 518.2,409.4 517.8,409.6 517.2,409.4 516.8,410 516.2,409.5 515.8,410.2 515.2,410.3 514.8,409.9 514.2,410 513.8,410.2 513.2,410.9 512.8,410 512.2,410.3 511.8,409.8 511.2,410.5 510.8,410.2 510.2,410 509.8,409.6 509.2,410.8 508.8,410.7 508.2,410.1 507.8,410.1 507.2,410.7 506.8,410.8 506.2,410.3 505.8,409.8 505.2,410.5 504.8,410.2 504.2,410.5 503.8,410.5 503.2,410.6 502.8,410.6 502.2,410 501.8,410 501.2,410.3 500.8,410.3 500.2,410.9 499.8,411.1 499.2,410.2 498.8,410.7 498.2,410.4 497.8,410.1 497.2,411 496.8,410.3 496.2,410.7 495.8,411 495.2,412.2 494.8,411.2 494.2,410.8 493.8,410.4 493.2,411 492.8,410.8 492.2,411.1 491.8,411.2 491.2,410.8 490.8,411.3 490.2,410.6 489.8,411.3 489.2,410.8 488.8,411.3 488.2,411.6 487.8,411 487.2,410.6 486.8,410.7 486.2,411 485.8,411.4 485.2,411.2 484.8,411.2 484.2,410.9 483.8,411.1 483.2,410.9 482.8,411.1 482.2,411.3 481.8,410.9 481.2,411 480.8,411.7 480.2,411 479.8,411.6 479.2,412 478.8,410.9 478.2,411.4 477.8,412.1 477.2,411.5 476.8,411 476.2,412.3 475.8,411.6 475.2,412 474.8,411.9 474.2,411.5 473.8,411.7 473.2,411.7 472.8,411.9 472.2,412.1 471.8,411.8 471.2,411.8 470.8,412.3 470.2,412.1 469.8,412.1 469.2,412.4 468.8,411.3 468.2,412.1 467.8,411.9 467.2,412.4 466.8,411.7 466.2,411.9 465.8,411.9 465.2,412.6 464.8,411.5 464.2,411.8 463.8,411.4 463.2,412.5 462.8,412.1 462.2,412.2 461.8,412.1 461.2,411.8 460.8,412.1 460.2,412.5 459.8,412.5 459.2,413.1 458.8,412.4 458.2,412.7 457.8,412.8 457.2,412.1 456.8,412.7 456.2,412.5 455.8,412.3 455.2,413.3 454.8,412.5 454.2,412.9 453.8,412.8 453.2,412.6 452.8,412.6 452.2,412.2 451.8,413.1 451.2,412.9 450.8,413.8 450.2,413 449.8,413.2 449.2,413.2 448.8,413.5 448.2,412.5 447.8,413 447.2,413.7 446.8,413.5 446.2,413.1 445.8,413 445.2,413.3 444.8,413.3 444.2,413.6 443.8,412.7 443.2,412.9 442.8,413.7 442.2,413.3 441.8,414.2 441.2,413.9 440.8,413.3 440.2,413.9 439.8,413.8 439.2,413.6 438.8,413 438.2,413.9 437.8,413.5 437.2,413.9 436.8,414.2 436.2,413.6 435.8,413 435.2,413.8 434.8,413.8 434.2,413.9 433.8,414.7 433.2,414.1 432.8,414.5 432.2,414.3 431.8,414.2 431.2,414 430.8,414.6 430.2,414.6 429.8,413.6 429.2,414.3 428.8,414.3 428.2,414.9 427.8,413.8 427.2,414.5 426.8,414.6 426.2,415.3 425.8,414.4 425.2,414.9 424.8,413.8 424.2,414.3 423.8,414.5 423.2,415.3 422.8,414.7 422.2,415.5 421.8,415.3 421.2,414.6 420.8,414.2 420.2,414.9 419.8,414.7 419.2,414.6 418.8,415.2 418.2,415.2 417.8,414.5 417.2,414.5 416.8,415 416.2,415.5 415.8,415.3 415.2,415.7 414.8,415.1 414.2,414.3 413.8,415.5 413.2,415.4 412.8,415 412.2,415.2 411.8,414.8 411.2,414.9 410.8,415.4 410.2,414.6 409.8,415.6 409.2,415.3 408.8,415.4 408.2,415.5 407.8,415.7 407.2,415.5 406.8,415.2 406.2,415.3 405.8,415 405.2,415 404.8,415.7 404.2,415 403.8,415.3 403.2,415.5 402.8,415.5 402.2,415.5 401.8,415.8 401.2,415.1 400.8,415.6 400.2,415 399.8,415.8 399.2,415.8 398.8,416.4 398.2,415.6 397.8,415.2 397.2,415.2 396.8,415.4 396.2,415.4 395.8,415.3 395.2,415.9 394.8,414.8 394.2,415.1 393.8,415.4 393.2,415.2 392.8,415.1 392.2,416.1 391.8,415.1 391.2,415.1 390.8,415.6 390.2,415.1 389.8,415.3 389.2,415.7 388.8,415.1 388.2,415.1 387.8,414.7 387.2,414.9 386.8,414.4 386.2,415.3 385.8,415 385.2,414.3 384.8,415.2 384.2,414.1 383.8,414.3 383.2,414.8 382.8,414.8 382.2,414.1 381.8,414.2 381.2,414.2 380.8,414.1 380.2,413.9 379.8,413.2 379.2,414.1 378.8,414.1 378.2,414.2 377.8,413.6 377.2,413.3 376.8,413 376.2,413.5 375.8,413.6 375.2,412.9 374.8,413 374.2,413.4 373.8,413.1 373.2,413.5 372.8,413.4 372.2,413.3 371.8,413 371.2,413.4 370.8,412.7 370.2,413.6 369.8,413.3 369.2,413.4 368.8,413.1 368.2,412.5 367.8,413.3 367.2,413.4 366.8,413.2 366.2,412.8 365.8,413.2 365.2,412.9 364.8,413.4 364.2,413.7 363.8,413 363.2,413.3 362.8,412.8 362.2,413.2 361.8,412.8 361.2,413.6 360.8,413.5 360.2,413.3 359.8,413.6 359.2,413.8 358.8,413.1 358.2,413.1 357.8,413.7 357.2,413.2 356.8,413.5 356.2,413.8 355.8,413.6 355.2,413.8 354.8,413.5 354.2,413.4 353.8,413.1 353.2,412.9 352.8,413.2 352.2,412.8 351.8,413.6 351.2,413.2 350.8,413.1 350.2,414.3 349.8,413.2 349.2,413.6 348.8,413.7 348.2,413.2 347.8,413.7 347.2,413.6 346.8,413.7 346.2,413.7 345.8,414 345.2,414 344.8,413.7 344.2,413.9 343.8,413.7 343.2,413.5 342.8,413.7 342.2,413.7 341.8,414.2 341.2,414.2 340.8,413.3 340.2,414.3 339.8,413.5 339.2,413.3 338.8,413.3 338.2,413.6 337.8,414 337.2,413.7 336.8,414 336.2,414.1 335.8,413.6 335.2,413.4 334.8,413.6 334.2,413.4 333.8,414.1 333.2,414.5 332.8,414.1 332.2,414 331.8,414 331.2,413.9 330.8,414.1 330.2,414.1 329.8,414.3 329.2,413.8 328.8,414.2 328.2,414.3 327.8,414.6 327.2,414.7 326.8,414.1 326.2,414 325.8,414.4 325.2,414.1 324.8,414.1 324.2,414.6 323.8,414.2 323.2,414.2 322.8,413.8 322.2,414.1 321.8,414.5 321.2,414.6 320.8,414.4 320.2,414.1 319.8,414.4 319.2,414.2 318.8,414.3 318.2,414.6 317.8,414.5 317.2,414.4 316.8,414.6 316.2,414.3 315.8,414.4 315.2,414.6 314.8,414.2 314.2,414.2 313.8,413.8 313.2,414.5 312.8,414 312.2,414.6 311.8,414.3 311.2,414.7 310.8,414.1 310.2,414.1 309.8,414.3 309.2,414.1 308.8,414.7 308.2,414.3 307.8,414.5 307.2,413.9 306.8,414.4 306.2,414.3 305.8,414.5 305.2,414.8 304.8,414.6 304.2,414.6 303.8,414.1 303.2,414.9 302.8,415.1 302.2,414.7 301.8,414.6 301.2,414.9 300.8,414.8 300.2,414.3 299.8,414.4 299.2,414.5 298.8,415.2 298.2,414.7 297.8,414.5 297.2,415.4 296.8,414.8 296.2,414.4 295.8,414.8 295.2,414.6 294.8,414.3 294.2,414.5 293.8,415.1 293.2,414.7 292.8,414.9 292.2,414.5 291.8,414.4 291.2,414.4 290.8,415.1 290.2,414.5 289.8,414.3 289.2,414.4 288.8,414.3 288.2,415.1 287.8,414.6 287.2,415 286.8,415.2 286.2,414.2 285.8,415.1 285.2,415.2 284.8,414.2 284.2,414.2 283.8,414.7 283.2,413.8 282.8,414.5 282.2,414.8 281.8,415.3 281.2,414.7 280.8,414.7 280.2,414.8 279.8,414.8 279.2,415.4 278.8,414.8 278.2,414.1 277.8,414.9 277.2,415 276.8,414.8 276.2,415.1 275.8,414.9 275.2,414.8 274.8,415 274.2,415.2 273.8,414.5 273.2,414.1 272.8,414.2 272.2,414.1 271.8,415.1 271.2,414.8 270.8,415.1 270.2,414.2 269.8,414.6 269.2,414.9 268.8,414.9 268.2,414.6 267.8,415 267.2,414.5 266.8,414.2 266.2,414.8 265.8,414.4 265.2,414.7 264.8,414 264.2,414.3 263.8,414.2 263.2,415 262.8,414.5 262.2,414.5 261.8,414.2 261.2,414.7 260.8,414 260.2,415.2 259.8,414.4 259.2,414.5 258.8,414.9 258.2,414.4 257.8,413.7 257.2,414.1 256.8,414.7 256.2,414.5 255.8,414.2 255.2,414.4 254.8,413.8 254.2,414.5 253.8,414.3 253.2,414 252.8,413.7 252.2,414.1 251.8,414.4 251.2,413.8 250.8,413.1 250.2,414.6 249.8,413.4 249.2,413.4 248.8,413.6 248.2,414 247.8,413.7 247.2,413.7 246.8,413.7 246.2,413.5 245.8,413.1 245.2,413 244.8,412.9 244.2,414 243.8,413.3 243.2,413.8 242.8,413.6 242.2,413 241.8,413.5 241.2,413.3 240.8,413.7 240.2,413.6 239.8,413.2 239.2,413.5 238.8,413.1 238.2,413.7 237.8,413 237.2,413.2 236.8,412.5 236.2,413.7 235.8,413.2 235.2,413.1 234.8,413 234.2,413 233.8,413.3 233.2,412.5 232.8,413.4 232.2,413 231.8,413.5 231.2,413.1 230.8,413 230.2,413.3 229.8,412.7 229.2,413.4 228.8,412.2 228.2,412.6 227.8,413 227.2,412.7 226.8,412.9 226.2,412.2 225.8,412.7 225.2,412.2 224.8,412.5 224.2,412.1 223.8,412.8 223.2,412.9 222.8,412.4 222.2,412.6 221.8,412.4 221.2,411.9 220.8,412.5 220.2,412.4 219.8,412 219.2,412.4 218.8,412.6 218.2,412.7 217.8,411.9 217.2,412.2 216.8,411.7 216.2,411.8 215.8,411.5 215.2,411.4 214.8,412.4 214.2,412 213.8,412.1 213.2,412.7 212.8,412 212.2,411.9 211.8,411.9 211.2,411.3 210.8,411.6 210.2,411.8 209.8,411.8 209.2,412.3 208.8,411.9 208.2,411 207.8,411.8 207.2,411.4 206.8,411.2 206.2,410.9 205.8,411.1 205.2,411.5 204.8,410.6 204.2,411.8 203.8,411.6 203.2,411.1 202.8,411.5 202.2,410.9 201.8,411.3 201.2,410.8 200.8,411 200.2,411.6 199.8,411.9 199.2,411.5 198.8,410.3 198.2,411.2 197.8,411.1 197.2,411.3 196.8,410.9 196.2,410.7 195.8,410.8 195.2,411.2 194.8,410.9 194.2,411 193.8,411 193.2,411.1 192.8,411.3 192.2,410.7 191.8,410.3 191.2,410.7 190.8,410.5 190.2,410.3 189.8,411.4 189.2,410.4 188.8,410.5 188.2,410.7 187.8,410.7 187.2,410.1 186.8,410.3 186.2,410.5 185.8,410.5 185.2,410.5 184.8,410.6 184.2,410.3 183.8,410.3 183.2,410.4 182.8,410.4 182.2,410.1 181.8,409.9 181.2,409.9 180.8,410.2 180.2,410.4 179.8,410.6 179.2,410.5 178.8,410.3 178.2,410.3 177.8,410 177.2,409.6 176.8,409.5 176.2,410.1 175.8,410 175.2,409.9 174.8,409.7 174.2,410 173.8,409.5 173.2,410 172.8,409.9 172.2,410.1 171.8,409.9 171.2,410 170.8,409.9 170.2,409.4 169.8,409.8 169.2,409.5 168.8,409.7 168.2,410.3 167.8,409.5 167.2,410.2 166.8,410 166.2,409.8 165.8,409.5 165.2,409.8 164.8,409.4 164.2,410.1 163.8,409.7 163.2,410.2 162.8,410 162.2,409.9 161.8,409.2 161.2,409.4 160.8,409.6 160.2,410 159.8,409.4 159.2,409.2 158.8,410.4 158.2,409.5 157.8,409.3 157.2,409.7 156.8,409.8 156.2,409.6 155.8,409.7 155.2,409.8 154.8,409.3 154.2,409.7 153.8,409.2 153.2,409 152.8,409.5 152.2,409.9 151.8,410.1 151.2,409.3 150.8,409.5 150.2,409.5 149.8,409.9 149.2,409.6 148.8,409.3 148.2,409.1 147.8,409.8 147.2,409.1 146.8,408.8 146.2,409.2 145.8,409.8 145.2,409.8 144.8,408.7 144.2,409.5 143.8,409.8 143.2,410.1 142.8,409.6 142.2,409.7 141.8,409.5 141.2,409.8 140.8,409.7 140.2,410 139.8,409.7 139.2,409.4 138.8,410 138.2,409.8 137.8,409.6 137.2,410.6 136.8,409.8 136.2,409.1 135.8,410.2 135.2,409.6 134.8,410 134.2,409.9 133.8,410.7 133.2,409.3 132.8,409.7 132.2,409.5 131.8,410.3 131.2,409.5 130.8,410.5 130.2,410.2 129.8,409.8 129.2,410.1 128.8,410 128.2,410.6 127.8,410.7 127.2,410 126.8,410.5 126.2,410 125.8,410.6 125.2,410.1 124.8,409.9 124.2,410.5 123.8,409.7 123.2,410 122.8,410.9 122.2,410.2 121.8,410.2 121.2,410.7 120.8,410.4 120.2,410.8 119.8,410.1 119.2,410.4 118.8,410.1 118.2,410.6 117.8,410.5 117.2,411.5 116.8,410.2 116.2,410.7 115.8,410.1 115.2,410.8 114.8,410.9 114.2,411 113.8,410.6 113.2,410.4 112.8,411.3 112.2,410.3 111.8,411.4 111.2,410.7 110.8,410.6 110.2,410.6 109.8,410.7 109.2,411.3 108.8,410.9 108.2,411.5 107.8,411.1 107.2,410.6 106.8,410.9 106.2,411.5 105.8,410.8 105.2,410.9 104.8,411.1 104.2,410.9 103.8,410.9 103.2,411.5 102.8,411.3 102.2,411.6 101.8,411.4 101.2,411.1 100.8,411 100.2,411.3 99.8,411.1 99.2,410.9 98.8,410.7 98.2,411.4 97.8,411.2 97.2,411.4 96.8,411.7 96.2,411.1 95.8,411.7 95.2,411.7 94.8,411.4 94.2,411.3 93.8,411.7 93.2,410.9 92.8,410.8 92.2,411 91.8,410.8 91.2,411.1 90.8,411.8 90.2,411.2 89.8,411.7 89.2,411.4 88.8,411.3 88.2,411.5 87.8,411.8 87.2,412 86.8,412.3 86.2,412 85.8,411.6 85.2,411 84.8,411.6 84.2,411.5 83.8,411.9 83.2,411.7 82.8,412.4 82.2,411.6 81.8,411.5 81.2,411.9 80.8,411.8 80.2,411.5 79.8,412.1 79.2,412.1 78.8,411.9 78.2,411.4 77.8,411.5 77.2,411.4 76.8,411.8 76.2,412 75.8,411.9 75.2,411.2 74.8,411.8 74.2,412.2 73.8,412.5 73.2,411.8 72.8,411.8 72.2,412.3 71.8,411.4 71.2,412.2 70.8,412.2 70.2,412 69.8,412.1 69.2,412.1 68.8,412.6 68.2,411.4 67.8,412 67.2,412.6 66.8,412.3 66.2,412.7 65.8,411.7 65.2,412.1 64.8,412 64.2,412.5 63.8,412.6 63.2,412.3 62.8,412.3 62.2,412 61.8,412.5 61.2,411.7 60.8,412.1 60.2,412.5 59.8,412 59.2,412.1 58.8,412.2 58.2,412.6 57.8,412.1 57.2,412.3 56.8,412.3 56.2,412.7 55.8,412.4 55.2,412.2 54.8,411.5 54.2,412.5 53.8,412.9 53.2,412.3 52.8,412.6 52.2,412.6"/>
<rect x="52.2" y="326.8" width="628.1" height="2.2" fill="#f80000"/>
</g>
<g>
<path d="M52.2 24.5V452.8" stroke="#3c3c3c" stroke-width="1.5"/>
<path d="M680.4 24.5V452.8" stroke="#333" stroke-width="1.5"/>
<path d="M51.5 24.5H681.1" stroke="#2e2e2e" stroke-width="1.7"/>
<path d="M51.5 452.8H681.1" stroke="#3a3a3a" stroke-width="2.1"/>
</g>
<g>
<rect x="286.5" y="43.9" width="192.1" height="166.3" fill="#fff"/>
<g clip-path="url(#ic)" filter="url(#soft)">
<rect x="287.5" y="66.5" width="2.3" height="138" fill="#2a2af0" fill-opacity="0.3"/>
<path d="M287.5 60.9V210.2" stroke="#2222ee" stroke-opacity="0.7" stroke-width="1.7"/>
<path d="M289.9 65.5V205.5" stroke="#2222ee" stroke-opacity="0.5" stroke-width="1.3"/>
<rect x="292.5" y="65.5" width="3" height="133.2" fill="#2a2af0" fill-opacity="0.3"/>
<path d="M292.5 61.7V207" stroke="#2222ee" stroke-opacity="0.7" stroke-width="1.3"/>
<path d="M295.5 64.5V199.7" stroke="#2222ee" stroke-opacity="0.6" stroke-width="1.3"/>
<rect x="297.5" y="67.6" width="2.3" height="133.2" fill="#2a2af0" fill-opacity="0.4"/>
<path d="M297.5 62.7V208.1" stroke="#2222ee" stroke-opacity="0.6" stroke-width="1.7"/>
<path d="M299.8 66.6V201.8" stroke="#2222ee" stroke-opacity="0.6" stroke-width="1.1"/>
<rect x="302" y="65" width="2.7" height="136.2" fill="#2a2af0" fill-opacity="0.3"/>
<path d="M302 59.2V209.2" stroke="#2222ee" stroke-opacity="0.5" stroke-width="1.4"/>
<path d="M304.7 64V202.2" stroke="#2222ee" stroke-opacity="0.4" stroke-width="1.2"/>
<rect x="306.4" y="71.3" width="2.7" height="130.3" fill="#2a2af0" fill-opacity="0.4"/>
<path d="M306.4 61.8V207.4" stroke="#2222ee" stroke-opacity="0.6" stroke-width="1.8"/>
<path d="M309.1 70.3V202.6" stroke="#2222ee" stroke-opacity="0.5" stroke-width="1.2"/>
<rect x="311.1" y="64.9" width="2.9" height="137.3" fill="#2a2af0" fill-opacity="0.4"/>
<path d="M311.1 60.5V211" stroke="#2222ee" stroke-opacity="0.7" stroke-width="1.4"/>
<path d="M314 63.9V203.2" stroke="#2222ee" stroke-opacity="0.5" stroke-width="1.3"/>
<rect x="316.1" y="66.3" width="2.8" height="133.7" fill="#2a2af0" fill-opacity="0.4"/>
<path d="M316.1 60V207.1" stroke="#2222ee" stroke-opacity="0.6" stroke-width="1.3"/>
<path d="M318.9 65.3V201" stroke="#2222ee" stroke-opacity="0.6" stroke-width="1.2"/>
<rect x="320.8" y="70.3" width="2.2" height="132" fill="#2a2af0" fill-opacity="0.4"/>
<path d="M320.8 62.8V207.4" stroke="#2222ee" stroke-opacity="0.6" stroke-width="1.5"/>
<path d="M323 69.3V203.3" stroke="#2222ee" stroke-opacity="0.5" stroke-width="1.4"/>
<rect x="325.1" y="68.1" width="2.3" height="138.3" fill="#2a2af0" fill-opacity="0.4"/>
<path d="M325.1 62.4V210.8" stroke="#2222ee" stroke-opacity="0.6" stroke-width="1.8"/>
<path d="M327.4 67.1V207.4" stroke="#2222ee" stroke-opacity="0.4" stroke-width="1.4"/>
<rect x="329.7" y="70.1" width="2.3" height="135.7" fill="#2a2af0" fill-opacity="0.3"/>
<path d="M329.7 62V210" stroke="#2222ee" stroke-opacity="0.7" stroke-width="1.5"/>
<path d="M332 69.1V206.8" stroke="#2222ee" stroke-opacity="0.6" stroke-width="1.5"/>
<rect x="335.1" y="70.2" width="2.2" height="131" fill="#2a2af0" fill-opacity="0.3"/>
<path d="M335.1 62.2V211.6" stroke="#2222ee" stroke-opacity="0.6" stroke-width="1.7"/>
<path d="M337.3 69.2V202.2" stroke="#2222ee" stroke-opacity="0.6" stroke-width="1.3"/>
<rect x="339.8" y="65.8" width="2.6" height="136.9" fill="#2a2af0" fill-opacity="0.4"/>
<path d="M339.8 60.4V209.8" stroke="#2222ee" stroke-opacity="0.5" stroke-width="1.6"/>
<path d="M342.5 64.8V203.7" stroke="#2222ee" stroke-opacity="0.5" stroke-width="1.5"/>
<rect x="344.6" y="67.9" width="2.5" height="134.7" fill="#2a2af0" fill-opacity="0.4"/>
<path d="M344.6 60.7V208.7" stroke="#2222ee" stroke-opacity="0.6" stroke-width="1.5"/>
<path d="M347.1 66.9V203.6" stroke="#2222ee" stroke-opacity="0.6" stroke-width="1.2"/>
<rect x="349.5" y="66.7" width="2.5" height="133.4" fill="#2a2af0" fill-opacity="0.4"/>
<path d="M349.5 63.3V208.2" stroke="#2222ee" stroke-opacity="0.7" stroke-width="1.5"/>
<path d="M352 65.7V201.1" stroke="#2222ee" stroke-opacity="0.4" stroke-width="1.4"/>
<rect x="353.5" y="67.9" width="2.7" height="130.6" fill="#2a2af0" fill-opacity="0.3"/>
<path d="M353.5 63.7V210.1" stroke="#2222ee" stroke-opacity="0.7" stroke-width="1.7"/>
<path d="M356.3 66.9V199.5" stroke="#2222ee" stroke-opacity="0.5" stroke-width="1.3"/>
<rect x="358.5" y="62.6" width="2.5" height="138.5" fill="#2a2af0" fill-opacity="0.3"/>
<path d="M358.5 59.2V208.5" stroke="#2222ee" stroke-opacity="0.7" stroke-width="1.5"/>
<path d="M361 61.6V202.1" stroke="#2222ee" stroke-opacity="0.5" stroke-width="1.2"/>
<rect x="363.5" y="64.2" width="2.8" height="133.7" fill="#2a2af0" fill-opacity="0.5"/>
<path d="M363.5 60.5V208.7" stroke="#2222ee" stroke-opacity="0.7" stroke-width="1.3"/>
<path d="M366.3 63.2V198.9" stroke="#2222ee" stroke-opacity="0.6" stroke-width="1.4"/>
<rect x="368.1" y="66" width="2.8" height="139.1" fill="#2a2af0" fill-opacity="0.4"/>
<path d="M368.1 61.7V213.9" stroke="#2222ee" stroke-opacity="0.7" stroke-width="1.7"/>
<path d="M370.9 65V206.1" stroke="#2222ee" stroke-opacity="0.4" stroke-width="1.5"/>
<rect x="372.5" y="61.3" width="2.6" height="139.1" fill="#2a2af0" fill-opacity="0.4"/>
<path d="M372.5 53.4V209.3" stroke="#2222ee" stroke-opacity="0.5" stroke-width="1.4"/>
<path d="M375.1 60.3V201.4" stroke="#2222ee" stroke-opacity="0.6" stroke-width="1.2"/>
<rect x="376.9" y="57.8" width="3" height="143.3" fill="#2a2af0" fill-opacity="0.4"/>
<path d="M376.9 54V208.4" stroke="#2222ee" stroke-opacity="0.6" stroke-width="1.5"/>
<path d="M379.9 56.8V202.1" stroke="#2222ee" stroke-opacity="0.5" stroke-width="1.5"/>
<rect x="381.9" y="52" width="2.4" height="151.2" fill="#2a2af0" fill-opacity="0.4"/>
<path d="M381.9 49V208" stroke="#2222ee" stroke-opacity="0.5" stroke-width="1.4"/>
<path d="M384.3 51V204.3" stroke="#2222ee" stroke-opacity="0.5" stroke-width="1.2"/>
<rect x="386.6" y="56" width="2.2" height="144.6" fill="#2a2af0" fill-opacity="0.4"/>
<path d="M386.6 46.7V210.6" stroke="#2222ee" stroke-opacity="0.6" stroke-width="1.8"/>
<path d="M388.8 55V201.6" stroke="#2222ee" stroke-opacity="0.6" stroke-width="1.3"/>
<rect x="391.8" y="56" width="3" height="143.5" fill="#2a2af0" fill-opacity="0.4"/>
<path d="M391.8 46.7V211" stroke="#2222ee" stroke-opacity="0.5" stroke-width="1.4"/>
<path d="M394.8 55V200.6" stroke="#2222ee" stroke-opacity="0.5" stroke-width="1.4"/>
<rect x="395.9" y="55.2" width="2.3" height="142.9" fill="#2a2af0" fill-opacity="0.3"/>
<path d="M395.9 46.4V206.1" stroke="#2222ee" stroke-opacity="0.6" stroke-width="1.5"/>
<path d="M398.2 54.2V199.1" stroke="#2222ee" stroke-opacity="0.6" stroke-width="1.2"/>
<rect x="401" y="52.1" width="2.4" height="149.1" fill="#2a2af0" fill-opacity="0.4"/>
<path d="M401 46.1V209.6" stroke="#2222ee" stroke-opacity="0.7" stroke-width="1.3"/>
<path d="M403.4 51.1V202.2" stroke="#2222ee" stroke-opacity="0.6" stroke-width="1.3"/>
<rect x="405.8" y="65.4" width="2.2" height="137.7" fill="#2a2af0" fill-opacity="0.4"/>
<path d="M405.8 56.3V207.5" stroke="#2222ee" stroke-opacity="0.6" stroke-width="1.6"/>
<path d="M408 64.4V204.2" stroke="#2222ee" stroke-opacity="0.4" stroke-width="1.4"/>
<rect x="410.5" y="64.4" width="2.8" height="133.8" fill="#2a2af0" fill-opacity="0.3"/>
<path d="M410.5 58.2V209.5" stroke="#2222ee" stroke-opacity="0.7" stroke-width="1.2"/>
<path d="M413.3 63.4V199.2" stroke="#2222ee" stroke-opacity="0.6" stroke-width="1.1"/>
<rect x="415.6" y="66.7" width="2.3" height="132.6" fill="#2a2af0" fill-opacity="0.4"/>
<path d="M415.6 57.6V208" stroke="#2222ee" stroke-opacity="0.7" stroke-width="1.3"/>
<path d="M417.9 65.7V200.4" stroke="#2222ee" stroke-opacity="0.4" stroke-width="1.5"/>
<rect x="419.4" y="65.6" width="2.9" height="137.4" fill="#2a2af0" fill-opacity="0.4"/>
<path d="M419.4 58.2V210.1" stroke="#2222ee" stroke-opacity="0.6" stroke-width="1.5"/>
<path d="M422.3 64.6V204" stroke="#2222ee" stroke-opacity="0.5" stroke-width="1.2"/>
<rect x="424.5" y="63.1" width="2.4" height="138" fill="#2a2af0" fill-opacity="0.3"/>
<path d="M424.5 59.1V212" stroke="#2222ee" stroke-opacity="0.7" stroke-width="1.2"/>
<path d="M426.9 62.1V202.1" stroke="#2222ee" stroke-opacity="0.6" stroke-width="1.6"/>
<rect x="429.3" y="67.8" width="3" height="135.5" fill="#2a2af0" fill-opacity="0.4"/>
<path d="M429.3 63.1V211.4" stroke="#2222ee" stroke-opacity="0.6" stroke-width="1.5"/>
<path d="M432.3 66.8V204.3" stroke="#2222ee" stroke-opacity="0.4" stroke-width="1.4"/>
<rect x="433.8" y="70.3" width="2.6" height="129.4" fill="#2a2af0" fill-opacity="0.4"/>
<path d="M433.8 60.4V210.2" stroke="#2222ee" stroke-opacity="0.7" stroke-width="1.3"/>
<path d="M436.4 69.3V200.8" stroke="#2222ee" stroke-opacity="0.5" stroke-width="1.3"/>
<rect x="438.6" y="64.5" width="2.7" height="134.8" fill="#2a2af0" fill-opacity="0.5"/>
<path d="M438.6 60.4V209.1" stroke="#2222ee" stroke-opacity="0.6" stroke-width="1.3"/>
<path d="M441.3 63.5V200.3" stroke="#2222ee" stroke-opacity="0.6" stroke-width="1.4"/>
<rect x="443.7" y="67.1" width="2.2" height="131.6" fill="#2a2af0" fill-opacity="0.4"/>
<path d="M443.7 59.6V207.5" stroke="#2222ee" stroke-opacity="0.6" stroke-width="1.6"/>
<path d="M445.9 66.1V199.7" stroke="#2222ee" stroke-opacity="0.5" stroke-width="1.5"/>
<rect x="447.9" y="66.7" width="2.9" height="137.8" fill="#2a2af0" fill-opacity="0.4"/>
<path d="M447.9 62V211" stroke="#2222ee" stroke-opacity="0.6" stroke-width="1.3"/>
<path d="M450.8 65.7V205.5" stroke="#2222ee" stroke-opacity="0.6" stroke-width="1.2"/>
<rect x="452.3" y="68.2" width="2.5" height="129.7" fill="#2a2af0" fill-opacity="0.5"/>
<path d="M452.3 63.7V206.8" stroke="#2222ee" stroke-opacity="0.6" stroke-width="1.3"/>
<path d="M454.7 67.2V198.9" stroke="#2222ee" stroke-opacity="0.5" stroke-width="1.2"/>
<rect x="458.2" y="70.7" width="2.6" height="132.3" fill="#2a2af0" fill-opacity="0.3"/>
<path d="M458.2 63.2V208.3" stroke="#2222ee" stroke-opacity="0.7" stroke-width="1.7"/>
<path d="M460.8 69.7V204.1" stroke="#2222ee" stroke-opacity="0.6" stroke-width="1.4"/>
<rect x="462.4" y="69.2" width="2.3" height="130.8" fill="#2a2af0" fill-opacity="0.3"/>
<path d="M462.4 62.5V207.5" stroke="#2222ee" stroke-opacity="0.5" stroke-width="1.5"/>
<path d="M464.7 68.2V201" stroke="#2222ee" stroke-opacity="0.4" stroke-width="1.1"/>
<rect x="466.6" y="66.5" width="2.7" height="134.7" fill="#2a2af0" fill-opacity="0.3"/>
<path d="M466.6 61.9V208.9" stroke="#2222ee" stroke-opacity="0.6" stroke-width="1.5"/>
<path d="M469.3 65.5V202.2" stroke="#2222ee" stroke-opacity="0.4" stroke-width="1.4"/>
<rect x="471.5" y="71.8" width="2.6" height="132.7" fill="#2a2af0" fill-opacity="0.4"/>
<path d="M471.5 62.5V208.9" stroke="#2222ee" stroke-opacity="0.6" stroke-width="1.4"/>
<path d="M474.2 70.8V205.5" stroke="#2222ee" stroke-opacity="0.6" stroke-width="1.4"/>
<rect x="476.4" y="68" width="3" height="130.9" fill="#2a2af0" fill-opacity="0.4"/>
<path d="M476.4 62V207.2" stroke="#2222ee" stroke-opacity="0.5" stroke-width="1.8"/>
<path d="M479.4 67V199.9" stroke="#2222ee" stroke-opacity="0.5" stroke-width="1.2"/>
<rect x="481.8" y="67.1" width="2.8" height="134.4" fill="#2a2af0" fill-opacity="0.4"/>
<path d="M481.8 60.4V210.1" stroke="#2222ee" stroke-opacity="0.7" stroke-width="1.5"/>
<path d="M484.5 66.1V202.5" stroke="#2222ee" stroke-opacity="0.6" stroke-width="1.4"/>
<polygon fill="#3a3af0" fill-opacity=".38" points="402,53.3 403,53 404,54.2 405,54.3 406,56.3 407,53.4 408,55.2 409,54.3 410,57.8 411,58.8 412,56.3 413,57.6 414,59.2 415,57 416,56.4 417,59.7 418,59.2 419,58.5 420,61.3 421,59.8 422,57.1 423,60.7 424,60.4 425,63.6 426,61.1 427,61.2 428,62.5 429,62.5 430,60.4 431,63 432,62.6 433,65.6 434,67.4 435,62.5 436,63 437,63.5 437,90 436,90 435,90 434,90 433,90 432,90 431,90 430,90 429,90 428,90 427,90 426,90 425,90 424,90 423,90 422,90 421,90 420,90 419,90 418,90 417,90 416,90 415,90 414,90 413,90 412,90 411,90 410,90 409,90 408,90 407,90 406,90 405,90 404,90 403,90 402,90"/>
<rect x="286.5" y="87.5" width="1.2" height="102" fill="#a08f92" fill-opacity="0.8"/>
<rect x="287.6" y="80.7" width="1.2" height="108.9" fill="#5d55b6" fill-opacity="1"/>
<rect x="288.7" y="81.8" width="1.4" height="98.5" fill="#f3e2b4" fill-opacity="0.9"/>
<rect x="289.9" y="91" width="1.4" height="95.5" fill="#f1be3c" fill-opacity="0.8"/>
<rect x="291.1" y="94.2" width="1.3" height="91.6" fill="#7a6e9e" fill-opacity="0.9"/>
<rect x="292.3" y="81.8" width="1.3" height="104.1" fill="#5d55b6" fill-opacity="0.9"/>
<rect x="293.4" y="82.8" width="1.4" height="106.9" fill="#efd9a4" fill-opacity="0.9"/>
<rect x="294.7" y="83.2" width="1.4" height="99.7" fill="#d9b25a" fill-opacity="1"/>
<rect x="295.9" y="86.4" width="1.9" height="98.8" fill="#7a6e9e" fill-opacity="0.9"/>
<rect x="297.7" y="94.1" width="1.5" height="95.3" fill="#efd9a4" fill-opacity="0.9"/>
<rect x="299" y="85" width="1.5" height="106.7" fill="#e6c070" fill-opacity="1"/>
<rect x="300.3" y="85.7" width="1.4" height="106.5" fill="#8c7fa8" fill-opacity="0.8"/>
<rect x="301.6" y="86.8" width="2" height="99.7" fill="#e9b94a" fill-opacity="0.8"/>
<rect x="303.4" y="86.6" width="2" height="97" fill="#e6c070" fill-opacity="1"/>
<rect x="305.3" y="90" width="1.3" height="96.2" fill="#8c7fa8" fill-opacity="0.8"/>
<rect x="306.5" y="91.8" width="2" height="96.1" fill="#e9b94a" fill-opacity="1"/>
<rect x="308.3" y="86.7" width="2" height="101.1" fill="#d9b25a" fill-opacity="0.8"/>
<rect x="310.2" y="87.2" width="1.3" height="100.2" fill="#8c7fa8" fill-opacity="0.9"/>
<rect x="311.3" y="92.3" width="1.3" height="91.6" fill="#85789a" fill-opacity="0.9"/>
<rect x="312.5" y="90.7" width="1.5" height="93.8" fill="#f3e2b4" fill-opacity="0.9"/>
<rect x="313.8" y="80.5" width="1.5" height="104.3" fill="#e6c070" fill-opacity="0.9"/>
<rect x="315.2" y="82.7" width="1.8" height="104.2" fill="#7a6e9e" fill-opacity="1"/>
<rect x="316.8" y="88.4" width="1.9" height="98.5" fill="#ebd08f" fill-opacity="0.8"/>
<rect x="318.5" y="93.3" width="1.9" height="94.6" fill="#d9b25a" fill-opacity="0.8"/>
<rect x="320.3" y="84.4" width="1.6" height="100.5" fill="#7a6e9e" fill-opacity="0.8"/>
<rect x="321.8" y="89.8" width="1.6" height="94.6" fill="#6f66b4" fill-opacity="0.8"/>
<rect x="323.2" y="84.8" width="1.8" height="101.2" fill="#e6c070" fill-opacity="1"/>
<rect x="324.9" y="79.6" width="1.7" height="107.5" fill="#a08f92" fill-opacity="1"/>
<rect x="326.4" y="82.4" width="1.9" height="99.7" fill="#e9b94a" fill-opacity="0.8"/>
<rect x="328.2" y="85.1" width="1.9" height="104.7" fill="#d9b25a" fill-opacity="0.8"/>
<rect x="330" y="85.5" width="1.1" height="99.7" fill="#5d55b6" fill-opacity="0.9"/>
<rect x="331" y="86.2" width="1.8" height="104.6" fill="#e6c070" fill-opacity="0.9"/>
<rect x="332.6" y="86" width="1.8" height="101.4" fill="#e9b94a" fill-opacity="0.9"/>
<rect x="334.3" y="85.1" width="1.3" height="103.4" fill="#85789a" fill-opacity="0.9"/>
<rect x="335.4" y="87.5" width="1.8" height="97" fill="#e6c070" fill-opacity="0.8"/>
<rect x="337.1" y="82.9" width="1.8" height="106.6" fill="#d9b25a" fill-opacity="0.9"/>
<rect x="338.7" y="90.5" width="0.7" height="102.5" fill="#85789a" fill-opacity="0.9"/>
<rect x="339.3" y="87.5" width="2.3" height="98.1" fill="#ebd08f" fill-opacity="0.9"/>
<rect x="341.5" y="86.5" width="2.3" height="101" fill="#f1be3c" fill-opacity="0.9"/>
<rect x="343.7" y="90.9" width="1.3" height="93.2" fill="#a08f92" fill-opacity="0.9"/>
<rect x="344.8" y="84.1" width="1.9" height="100.4" fill="#f1be3c" fill-opacity="0.9"/>
<rect x="346.5" y="84.5" width="1.9" height="105.4" fill="#e6c070" fill-opacity="0.9"/>
<rect x="348.3" y="89.8" width="1.6" height="92.5" fill="#a08f92" fill-opacity="0.9"/>
<rect x="349.7" y="82.7" width="1.6" height="105.1" fill="#7a6e9e" fill-opacity="0.9"/>
<rect x="351.2" y="87.3" width="1.9" height="106.5" fill="#f1be3c" fill-opacity="1"/>
<rect x="353" y="87.5" width="1.4" height="97.9" fill="#9a8a9e" fill-opacity="0.9"/>
<rect x="354.2" y="81.1" width="1.4" height="105.8" fill="#85789a" fill-opacity="0.9"/>
<rect x="355.4" y="93.6" width="1.1" height="87.8" fill="#e9b94a" fill-opacity="0.9"/>
<rect x="356.4" y="87.6" width="1.1" height="90.7" fill="#d9b25a" fill-opacity="0.9"/>
<rect x="357.3" y="89.5" width="1.8" height="97.1" fill="#85789a" fill-opacity="0.9"/>
<rect x="359" y="88.1" width="1.8" height="95.9" fill="#efd9a4" fill-opacity="0.8"/>
<rect x="360.6" y="95.4" width="1.8" height="92.8" fill="#f3e2b4" fill-opacity="0.8"/>
<rect x="362.3" y="82.8" width="1.1" height="106.1" fill="#5d55b6" fill-opacity="1"/>
<rect x="363.3" y="84.3" width="1.9" height="99.9" fill="#e6c070" fill-opacity="0.9"/>
<rect x="365" y="85.2" width="1.9" height="101.3" fill="#f3e2b4" fill-opacity="0.9"/>
<rect x="366.8" y="95.1" width="1.7" height="82.3" fill="#85789a" fill-opacity="1"/>
<rect x="368.3" y="86.5" width="1.7" height="103.3" fill="#e9b94a" fill-opacity="0.9"/>
<rect x="369.8" y="84.6" width="1.7" height="103.1" fill="#f1be3c" fill-opacity="0.9"/>
<rect x="371.3" y="80.4" width="0.7" height="111.7" fill="#6f66b4" fill-opacity="1"/>
<rect x="371.9" y="95.3" width="2.3" height="94.1" fill="#e6c070" fill-opacity="0.9"/>
<rect x="374.1" y="85.7" width="2.3" height="102.2" fill="#e6c070" fill-opacity="0.9"/>
<rect x="376.3" y="92" width="1.1" height="98.3" fill="#a08f92" fill-opacity="0.8"/>
<rect x="377.2" y="85" width="2.1" height="101.4" fill="#e6c070" fill-opacity="0.9"/>
<rect x="379.2" y="86.8" width="2.1" height="101" fill="#ebd08f" fill-opacity="0.9"/>
<rect x="381.2" y="84" width="2.4" height="95.6" fill="#8c7fa8" fill-opacity="0.9"/>
<rect x="383.4" y="86" width="2.4" height="98.8" fill="#5d55b6" fill-opacity="0.9"/>
<rect x="385.7" y="85.8" width="0.7" height="90.9" fill="#f1be3c" fill-opacity="0.9"/>
<rect x="386.2" y="86.5" width="2.5" height="99.8" fill="#a08f92" fill-opacity="1"/>
<rect x="388.6" y="84.5" width="2.5" height="100.5" fill="#a08f92" fill-opacity="0.9"/>
<rect x="391" y="87.5" width="0.6" height="91.4" fill="#f3e2b4" fill-opacity="0.9"/>
<rect x="391.4" y="100.1" width="2.1" height="85.4" fill="#6f66b4" fill-opacity="0.9"/>
<rect x="393.4" y="86.2" width="2.1" height="95.2" fill="#5d55b6" fill-opacity="0.8"/>
<rect x="395.4" y="79.3" width="1.6" height="110.4" fill="#f3e2b4" fill-opacity="0.9"/>
<rect x="396.8" y="87.4" width="2" height="98" fill="#9a8a9e" fill-opacity="1"/>
<rect x="398.7" y="87.4" width="2" height="98.5" fill="#a08f92" fill-opacity="0.9"/>
<rect x="400.5" y="84.1" width="1.3" height="102.1" fill="#f3e2b4" fill-opacity="0.9"/>
<rect x="401.6" y="90.7" width="2.5" height="95.4" fill="#7a6e9e" fill-opacity="0.9"/>
<rect x="403.9" y="88.7" width="2.5" height="96" fill="#85789a" fill-opacity="0.9"/>
<rect x="406.2" y="94.3" width="0.7" height="87.2" fill="#efd9a4" fill-opacity="0.9"/>
<rect x="406.8" y="86.1" width="2.4" height="89.9" fill="#a08f92" fill-opacity="0.9"/>
<rect x="409" y="89.5" width="2.4" height="90.3" fill="#9a8a9e" fill-opacity="0.9"/>
<rect x="411.3" y="78.6" width="0.5" height="109.5" fill="#ebd08f" fill-opacity="0.8"/>
<rect x="411.7" y="84.5" width="1.6" height="98.9" fill="#a08f92" fill-opacity="1"/>
<rect x="413.1" y="92.7" width="1.6" height="94.4" fill="#5d55b6" fill-opacity="0.9"/>
<rect x="414.5" y="93.5" width="1.1" height="92.8" fill="#d9b25a" fill-opacity="0.8"/>
<rect x="415.5" y="80.4" width="1.1" height="106" fill="#efd9a4" fill-opacity="0.9"/>
<rect x="416.5" y="91.9" width="2.2" height="92.6" fill="#6f66b4" fill-opacity="0.9"/>
<rect x="418.6" y="87" width="2.2" height="99.4" fill="#8c7fa8" fill-opacity="0.9"/>
<rect x="420.6" y="83.1" width="0.6" height="105.3" fill="#e9b94a" fill-opacity="0.9"/>
<rect x="421" y="84.7" width="1.5" height="103.6" fill="#85789a" fill-opacity="0.9"/>
<rect x="422.4" y="88.5" width="1.5" height="99.1" fill="#6f66b4" fill-opacity="0.8"/>
<rect x="423.8" y="80" width="1.7" height="97.5" fill="#efd9a4" fill-opacity="0.9"/>
<rect x="425.3" y="86.6" width="1.8" height="99.8" fill="#6f66b4" fill-opacity="0.9"/>
<rect x="427" y="81.5" width="1.8" height="97.4" fill="#5d55b6" fill-opacity="0.9"/>
<rect x="428.6" y="90.5" width="1.6" height="90.3" fill="#e6c070" fill-opacity="0.9"/>
<rect x="430" y="93.1" width="2" height="90.4" fill="#7a6e9e" fill-opacity="1"/>
<rect x="431.9" y="91.5" width="2" height="88" fill="#5d55b6" fill-opacity="0.9"/>
<rect x="433.8" y="84.4" width="1.2" height="108.7" fill="#d9b25a" fill-opacity="0.9"/>
<rect x="434.8" y="90.4" width="1.6" height="97.5" fill="#85789a" fill-opacity="0.9"/>
<rect x="436.2" y="81.6" width="1.6" height="103.7" fill="#5d55b6" fill-opacity="0.8"/>
<rect x="437.6" y="90.9" width="1.1" height="96.8" fill="#efd9a4" fill-opacity="0.9"/>
<rect x="438.6" y="85.3" width="1.1" height="104.5" fill="#f3e2b4" fill-opacity="0.8"/>
<rect x="439.6" y="90.2" width="1.6" height="97.9" fill="#6f66b4" fill-opacity="0.8"/>
<rect x="441" y="88.6" width="1.7" height="103" fill="#f1be3c" fill-opacity="0.9"/>
<rect x="442.6" y="84.6" width="1.7" height="102.2" fill="#efd9a4" fill-opacity="0.9"/>
<rect x="444.1" y="87.5" width="1.9" height="101.8" fill="#6f66b4" fill-opacity="0.9"/>
<rect x="445.9" y="86.3" width="1.6" height="96.4" fill="#ebd08f" fill-opacity="0.9"/>
<rect x="447.3" y="87.6" width="1.6" height="95.8" fill="#e6c070" fill-opacity="0.8"/>
<rect x="448.7" y="86.2" width="0.7" height="100.6" fill="#6f66b4" fill-opacity="1"/>
<rect x="449.3" y="84.1" width="2.2" height="105.6" fill="#f3e2b4" fill-opacity="1"/>
<rect x="451.4" y="87.5" width="2.2" height="99.8" fill="#d9b25a" fill-opacity="0.8"/>
<rect x="453.5" y="85.5" width="1.9" height="98.3" fill="#9a8a9e" fill-opacity="0.9"/>
<rect x="455.2" y="90.4" width="1.9" height="91.5" fill="#8c7fa8" fill-opacity="0.8"/>
<rect x="457" y="84.3" width="1.1" height="94.5" fill="#f3e2b4" fill-opacity="0.9"/>
<rect x="457.9" y="85.6" width="1.8" height="100.7" fill="#8c7fa8" fill-opacity="0.8"/>
<rect x="459.6" y="85.8" width="1.8" height="97.8" fill="#9a8a9e" fill-opacity="0.9"/>
<rect x="461.3" y="88" width="1.7" height="92.9" fill="#e9b94a" fill-opacity="0.9"/>
<rect x="462.8" y="84.7" width="1.2" height="105.2" fill="#5d55b6" fill-opacity="0.9"/>
<rect x="463.9" y="85.4" width="1.8" height="96" fill="#ebd08f" fill-opacity="0.9"/>
<rect x="465.6" y="89.6" width="1.8" height="91.3" fill="#e6c070" fill-opacity="0.8"/>
<rect x="467.3" y="87.5" width="0.7" height="95.8" fill="#9a8a9e" fill-opacity="0.9"/>
<rect x="467.9" y="86.7" width="2.2" height="97.1" fill="#f1be3c" fill-opacity="1"/>
<rect x="469.9" y="89" width="2.2" height="94.7" fill="#ebd08f" fill-opacity="0.9"/>
<rect x="472" y="91.9" width="1.4" height="92.5" fill="#5d55b6" fill-opacity="1"/>
<rect x="473.2" y="88.3" width="2" height="87.6" fill="#ebd08f" fill-opacity="0.9"/>
<rect x="475" y="85.5" width="2" height="104.5" fill="#f1be3c" fill-opacity="0.9"/>
<rect x="476.9" y="91.1" width="1.2" height="92" fill="#9a8a9e" fill-opacity="0.8"/>
<rect x="477.9" y="89.3" width="1.2" height="103.4" fill="#8c7fa8" fill-opacity="0.8"/>
<rect x="479" y="80" width="1.5" height="107.8" fill="#f3e2b4" fill-opacity="1"/>
<rect x="480.3" y="92.8" width="1.5" height="99" fill="#f3e2b4" fill-opacity="0.9"/>
<path d="M287.5 109.9V188.5" stroke="#2626c2" stroke-opacity="0.5" stroke-width="0.8"/>
<path d="M289.7 109.6V160.1" stroke="#2626c2" stroke-opacity="0.5" stroke-width="0.7"/>
<path d="M292.7 102.7V166.9" stroke="#2626c2" stroke-opacity="0.8" stroke-width="0.8"/>
<path d="M295.3 111.2V163.4" stroke="#2626c2" stroke-opacity="0.5" stroke-width="0.9"/>
<path d="M296.3 95V176.7" stroke="#2626c2" stroke-opacity="0.7" stroke-width="0.8"/>
<path d="M301.3 111.6V194.1" stroke="#2626c2" stroke-opacity="0.5" stroke-width="1.1"/>
<path d="M304.4 109.4V191.3" stroke="#2626c2" stroke-opacity="0.8" stroke-width="0.9"/>
<path d="M307.2 110.6V172.2" stroke="#2626c2" stroke-opacity="0.6" stroke-width="0.7"/>
<path d="M310 80V194" stroke="#2626c2" stroke-opacity="0.6" stroke-width="0.7"/>
<path d="M311.6 80V194" stroke="#2626c2" stroke-opacity="0.5" stroke-width="0.7"/>
<path d="M318.4 103.4V178.3" stroke="#2626c2" stroke-opacity="0.6" stroke-width="1.1"/>
<path d="M323.1 119.9V168.6" stroke="#2626c2" stroke-opacity="0.5" stroke-width="0.7"/>
<path d="M325.4 80V194" stroke="#2626c2" stroke-opacity="0.5" stroke-width="0.6"/>
<path d="M335.1 80V194" stroke="#2626c2" stroke-opacity="0.6" stroke-width="1.1"/>
<path d="M336.5 80V194" stroke="#2626c2" stroke-opacity="0.8" stroke-width="0.9"/>
<path d="M342.6 80V194" stroke="#2626c2" stroke-opacity="0.5" stroke-width="0.7"/>
<path d="M343.6 80V194" stroke="#2626c2" stroke-opacity="0.5" stroke-width="0.9"/>
<path d="M348.6 109.9V178.2" stroke="#2626c2" stroke-opacity="0.8" stroke-width="1.1"/>
<path d="M351.5 80V194" stroke="#2626c2" stroke-opacity="0.7" stroke-width="0.6"/>
<path d="M355.8 80V194" stroke="#2626c2" stroke-opacity="0.7" stroke-width="0.7"/>
<path d="M363.6 105.5V172.6" stroke="#2626c2" stroke-opacity="0.6" stroke-width="1.1"/>
<path d="M365.1 80V194" stroke="#2626c2" stroke-opacity="0.8" stroke-width="0.9"/>
<path d="M367.9 115.2V153" stroke="#2626c2" stroke-opacity="0.6" stroke-width="0.9"/>
<path d="M370 86.2V187.6" stroke="#2626c2" stroke-opacity="0.5" stroke-width="1"/>
<path d="M372.7 80V194" stroke="#2626c2" stroke-opacity="0.7" stroke-width="1"/>
<path d="M380.3 80V194" stroke="#2626c2" stroke-opacity="0.6" stroke-width="0.7"/>
<path d="M382.1 119V173.4" stroke="#2626c2" stroke-opacity="0.6" stroke-width="0.8"/>
<path d="M384.4 80V194" stroke="#2626c2" stroke-opacity="0.8" stroke-width="0.9"/>
<path d="M390.4 113.3V166.4" stroke="#2626c2" stroke-opacity="0.7" stroke-width="1.1"/>
<path d="M392.7 80V194" stroke="#2626c2" stroke-opacity="0.8" stroke-width="1.1"/>
<path d="M394.1 80V194" stroke="#2626c2" stroke-opacity="0.7" stroke-width="0.8"/>
<path d="M399.6 80V194" stroke="#2626c2" stroke-opacity="0.7" stroke-width="0.8"/>
<path d="M400.8 80V194" stroke="#2626c2" stroke-opacity="0.6" stroke-width="1.1"/>
<path d="M403.3 117.9V178.8" stroke="#2626c2" stroke-opacity="0.6" stroke-width="0.9"/>
<path d="M418.2 107.3V153.5" stroke="#2626c2" stroke-opacity="0.7" stroke-width="0.7"/>
<path d="M421.7 106.3V183.6" stroke="#2626c2" stroke-opacity="0.6" stroke-width="0.6"/>
<path d="M425.3 90.7V182.8" stroke="#2626c2" stroke-opacity="0.5" stroke-width="1"/>
<path d="M429.3 81.8V157.2" stroke="#2626c2" stroke-opacity="0.5" stroke-width="1.1"/>
<path d="M436 80V194" stroke="#2626c2" stroke-opacity="0.8" stroke-width="1.1"/>
<path d="M438.2 115.3V185.8" stroke="#2626c2" stroke-opacity="0.7" stroke-width="0.7"/>
<path d="M441.4 87.4V151.3" stroke="#2626c2" stroke-opacity="0.6" stroke-width="0.9"/>
<path d="M445.8 80V194" stroke="#2626c2" stroke-opacity="0.5" stroke-width="0.7"/>
<path d="M450.9 92.2V185.3" stroke="#2626c2" stroke-opacity="0.5" stroke-width="0.7"/>
<path d="M453.6 80V194" stroke="#2626c2" stroke-opacity="0.7" stroke-width="0.7"/>
<path d="M460.4 105.9V181.6" stroke="#2626c2" stroke-opacity="0.7" stroke-width="0.7"/>
<path d="M463.9 80V194" stroke="#2626c2" stroke-opacity="0.5" stroke-width="0.8"/>
<path d="M468.3 80V194" stroke="#2626c2" stroke-opacity="0.5" stroke-width="0.7"/>
<path d="M469.7 94.6V194" stroke="#2626c2" stroke-opacity="0.6" stroke-width="0.7"/>
<path d="M472.1 106.5V167.3" stroke="#2626c2" stroke-opacity="0.6" stroke-width="1"/>
<path d="M474 80V194" stroke="#2626c2" stroke-opacity="0.5" stroke-width="0.6"/>
<path d="M476.5 80V194" stroke="#2626c2" stroke-opacity="0.6" stroke-width="0.8"/>
<path d="M478.6 80V194" stroke="#2626c2" stroke-opacity="0.5" stroke-width="0.9"/>
<path d="M481.2 80V194" stroke="#2626c2" stroke-opacity="0.6" stroke-width="0.7"/>
<path d="M483.7 80V194" stroke="#2626c2" stroke-opacity="0.8" stroke-width="0.7"/>
<g filter="url(#soft3)"><rect x="378" y="76" width="25" height="96" fill="#4a3fa8" fill-opacity="0.42"/><rect x="403" y="82" width="34" height="108" fill="#5a4fae" fill-opacity="0.3"/><rect x="286.5" y="86" width="13.5" height="102" fill="#6a60a8" fill-opacity="0.18"/><rect x="316" y="86" width="10" height="102" fill="#6a60a8" fill-opacity="0.2"/><rect x="451" y="86" width="7" height="102" fill="#6a60a8" fill-opacity="0.25"/><rect x="378" y="172" width="25" height="18" fill="#5a4fae" fill-opacity="0.22"/><rect x="327" y="90" width="20" height="94" fill="#f2dca6" fill-opacity="0.3"/><rect x="355" y="90" width="22" height="94" fill="#f3cf70" fill-opacity="0.3"/><rect x="440" y="90" width="11" height="94" fill="#f2dca6" fill-opacity="0.3"/><rect x="459" y="90" width="14" height="94" fill="#f2dca6" fill-opacity="0.32"/></g>
<rect x="379.1" y="168.6" width="1.2" height="1.6" fill="#f0b62a"/>
<rect x="303.8" y="185.9" width="1.2" height="1.6" fill="#f0b62a"/>
<rect x="363.2" y="136.9" width="1.2" height="1.6" fill="#f0b62a"/>
<rect x="468.2" y="178.1" width="1.2" height="1.6" fill="#f0b62a"/>
<rect x="326.6" y="132.7" width="1.2" height="1.6" fill="#f0b62a"/>
<rect x="427.7" y="133.1" width="1.2" height="1.6" fill="#f0b62a"/>
<rect x="467" y="107.6" width="1.2" height="1.6" fill="#f0b62a"/>
<rect x="473.9" y="148.9" width="1.2" height="1.6" fill="#f0b62a"/>
<rect x="404.4" y="155" width="1.2" height="1.6" fill="#f0b62a"/>
<rect x="337.4" y="131.5" width="1.2" height="1.6" fill="#f0b62a"/>
<rect x="328.5" y="167" width="1.2" height="1.6" fill="#f0b62a"/>
<rect x="350.1" y="102" width="1.2" height="1.6" fill="#f0b62a"/>
<rect x="457.4" y="121.7" width="1.2" height="1.6" fill="#f0b62a"/>
<rect x="469" y="131.6" width="1.2" height="1.6" fill="#f0b62a"/>
<rect x="411.5" y="165" width="1.2" height="1.6" fill="#f0b62a"/>
<rect x="385.6" y="180.5" width="1.2" height="1.6" fill="#f0b62a"/>
<rect x="442" y="175.4" width="1.2" height="1.6" fill="#f0b62a"/>
<rect x="388.6" y="100.7" width="1.2" height="1.6" fill="#f0b62a"/>
<rect x="319.7" y="102.3" width="1.2" height="1.6" fill="#f0b62a"/>
<rect x="389.1" y="181.2" width="1.2" height="1.6" fill="#f0b62a"/>
<rect x="392.7" y="130.1" width="1.2" height="1.6" fill="#f0b62a"/>
<rect x="308.1" y="124.8" width="1.2" height="1.6" fill="#f0b62a"/>
<rect x="321.9" y="132.7" width="1.2" height="1.6" fill="#f0b62a"/>
<rect x="374.6" y="179.6" width="1.2" height="1.6" fill="#f0b62a"/>
<rect x="362.5" y="174.6" width="1.2" height="1.6" fill="#f0b62a"/>
<rect x="294.6" y="121.9" width="1.2" height="1.6" fill="#f0b62a"/>
<rect x="425.2" y="131.8" width="1.2" height="1.6" fill="#f0b62a"/>
<rect x="301.7" y="123" width="1.2" height="1.6" fill="#f0b62a"/>
<rect x="392.8" y="181.7" width="1.2" height="1.6" fill="#f0b62a"/>
<rect x="332.1" y="96.8" width="1.2" height="1.6" fill="#f0b62a"/>
<rect x="432" y="148.3" width="1.2" height="1.6" fill="#f0b62a"/>
<rect x="353.6" y="126.3" width="1.2" height="1.6" fill="#f0b62a"/>
<rect x="349.5" y="153" width="1.2" height="1.6" fill="#f0b62a"/>
<rect x="452.8" y="117.4" width="1.2" height="1.6" fill="#f0b62a"/>
<rect x="461.3" y="129" width="1.2" height="1.6" fill="#f0b62a"/>
<rect x="380.9" y="113.1" width="1.2" height="1.6" fill="#f0b62a"/>
<rect x="303.2" y="107.7" width="1.2" height="1.6" fill="#f0b62a"/>
<rect x="334.7" y="130.9" width="1.2" height="1.6" fill="#f0b62a"/>
<rect x="381.4" y="170.8" width="1.2" height="1.6" fill="#f0b62a"/>
<rect x="355.6" y="163" width="1.2" height="1.6" fill="#f0b62a"/>
<polygon fill="#0505ff" fill-opacity=".92" points="378.5,46.3 379,48.9 379.5,47.7 380,46.6 380.5,48.4 381,46.6 381.5,47.1 382,47.7 382.5,47.8 383,47.4 383.5,47.3 384,46.4 384.5,49.4 385,46.4 385.5,47.3 386,46.9 386.5,48.6 387,48.3 387.5,47.6 388,46.7 388.5,47.1 389,47 389.5,48.7 390,47 390.5,47.8 391,48.8 391.5,46.6 392,48.2 392.5,46.5 393,46.9 393.5,46.8 394,47.4 394.5,47.8 395,46.5 395.5,46.6 396,47.5 396.5,47.9 397,47.4 397.5,49.4 398,46.4 398.5,47.5 399,46.6 399.5,47 400,47.8 400.5,46.8 401,46.3 401.5,46.3 402,47 402,76.1 401.5,77.8 401,75.7 400.5,81.3 400,75.8 399.5,76 399,78.3 398.5,77.5 398,75.2 397.5,73.9 397,76.7 396.5,78.3 396,78.6 395.5,78 395,77.8 394.5,80.2 394,74.7 393.5,74.3 393,75.7 392.5,81.7 392,80.8 391.5,77.6 391,76 390.5,76.4 390,77.3 389.5,80.5 389,79.7 388.5,74.8 388,78.6 387.5,78 387,75.9 386.5,69.2 386,79.6 385.5,78.1 385,79.3 384.5,76.9 384,83.6 383.5,80.9 383,77.9 382.5,74 382,78.8 381.5,72.8 381,78.1 380.5,80.9 380,75.8 379.5,79.6 379,72.5 378.5,71.8"/>
</g>
<rect x="286.5" y="129.4" width="192.1" height="1.25" fill="#e8432a"/>
<rect x="286.5" y="43.9" width="192.1" height="166.3" fill="none" stroke="#7a7a7a" stroke-width="1"/>
<path d="M286.5 70.2h2M478.6 70.2h-2" stroke="#555" stroke-width=".8"/>
<path d="M286.5 130h2M478.6 130h-2" stroke="#555" stroke-width=".8"/>
<path d="M286.5 189h2M478.6 189h-2" stroke="#555" stroke-width=".8"/>
</g>
<g filter="url(#noop)">
<rect x="498.4" y="39.3" width="172.4" height="110.7" fill="#fff" stroke="#8a8a8a" stroke-width="1"/>
<path d="M507.6 63H564.6" stroke="#1414ff" stroke-width="1.6"/>
<path d="M507.6 96.6H564.6" stroke="#f5b015" stroke-width="1.6"/>
<path d="M507.6 131.9H564.6" stroke="#f01212" stroke-width="1.6"/>
<text transform="translate(571.8 72.8) scale(0.775 1)" font-family="'Liberation Serif','Times New Roman',Times,serif" font-weight="bold" font-size="22.5" fill="#151515" stroke="#151515" stroke-width=".35">Q<tspan font-size="15.6" dy="5">s1</tspan><tspan dy="-5" dx="8.8">BC</tspan></text>
<text transform="translate(574.2 107) scale(0.775 1)" font-family="'Liberation Serif','Times New Roman',Times,serif" font-weight="bold" font-size="22.5" fill="#151515" stroke="#151515" stroke-width=".35">Q<tspan font-size="15.6" dy="5">s1</tspan><tspan dy="-5" dx="5.6">BC-ALO</tspan></text>
<text transform="translate(574.2 142) scale(0.775 1)" font-family="'Liberation Serif','Times New Roman',Times,serif" font-weight="bold" font-size="22.5" fill="#151515" stroke="#151515" stroke-width=".35">Q<tspan font-size="15.6" dy="5">s1</tspan><tspan dy="-5" dx="5.6">Ref</tspan></text>
</g>
<g>
<rect x="543.6" y="211.3" width="35.4" height="222.0" fill="none" stroke="#111" stroke-width="1.25" stroke-dasharray="4.2 3.4"/>
<path d="M547.6 214.0L483.6 147.4" stroke="#111" stroke-width="1.35" fill="none"/>
<path d="M492.0 149.6L483.6 147.4L486.6 157.6" stroke="#111" stroke-width="1.35" fill="none"/>
</g>
<g filter="url(#noop)">
<text transform="translate(54.5 482.6) scale(0.775 1)" font-family="'Liberation Serif','Times New Roman',Times,serif" font-weight="bold" font-size="23.4" text-anchor="middle" fill="#1c1c1c" stroke="#1c1c1c" stroke-width=".45">0</text>
<text transform="translate(117.1 482.6) scale(0.775 1)" font-family="'Liberation Serif','Times New Roman',Times,serif" font-weight="bold" font-size="23.4" text-anchor="middle" fill="#1c1c1c" stroke="#1c1c1c" stroke-width=".45">1</text>
<text transform="translate(178.4 482.6) scale(0.775 1)" font-family="'Liberation Serif','Times New Roman',Times,serif" font-weight="bold" font-size="23.4" text-anchor="middle" fill="#1c1c1c" stroke="#1c1c1c" stroke-width=".45">2</text>
<text transform="translate(239.3 482.6) scale(0.775 1)" font-family="'Liberation Serif','Times New Roman',Times,serif" font-weight="bold" font-size="23.4" text-anchor="middle" fill="#1c1c1c" stroke="#1c1c1c" stroke-width=".45">3</text>
<text transform="translate(303.2 482.6) scale(0.775 1)" font-family="'Liberation Serif','Times New Roman',Times,serif" font-weight="bold" font-size="23.4" text-anchor="middle" fill="#1c1c1c" stroke="#1c1c1c" stroke-width=".45">4</text>
<text transform="translate(366.2 482.6) scale(0.775 1)" font-family="'Liberation Serif','Times New Roman',Times,serif" font-weight="bold" font-size="23.4" text-anchor="middle" fill="#1c1c1c" stroke="#1c1c1c" stroke-width=".45">5</text>
<text transform="translate(429.1 482.6) scale(0.775 1)" font-family="'Liberation Serif','Times New Roman',Times,serif" font-weight="bold" font-size="23.4" text-anchor="middle" fill="#1c1c1c" stroke="#1c1c1c" stroke-width=".45">6</text>
<text transform="translate(489.6 482.6) scale(0.775 1)" font-family="'Liberation Serif','Times New Roman',Times,serif" font-weight="bold" font-size="23.4" text-anchor="middle" fill="#1c1c1c" stroke="#1c1c1c" stroke-width=".45">7</text>
<text transform="translate(554.1 485.3) scale(0.775 1)" font-family="'Liberation Serif','Times New Roman',Times,serif" font-weight="bold" font-size="23.4" text-anchor="middle" fill="#1c1c1c" stroke="#1c1c1c" stroke-width=".45">8</text>
<text transform="translate(615.5 485.3) scale(0.775 1)" font-family="'Liberation Serif','Times New Roman',Times,serif" font-weight="bold" font-size="23.4" text-anchor="middle" fill="#1c1c1c" stroke="#1c1c1c" stroke-width=".45">9</text>
<text transform="translate(667.6 485.3) scale(0.775 1)" font-family="'Liberation Serif','Times New Roman',Times,serif" font-weight="bold" font-size="23.4" text-anchor="start" fill="#1c1c1c" stroke="#1c1c1c" stroke-width=".45">10</text>
<text transform="translate(48.2 93.6) scale(0.775 1)" font-family="'Liberation Serif','Times New Roman',Times,serif" font-weight="bold" font-size="23.4" text-anchor="end" fill="#1c1c1c" stroke="#1c1c1c" stroke-width=".45">0.4</text>
<text transform="translate(48.2 215.2) scale(0.775 1)" font-family="'Liberation Serif','Times New Roman',Times,serif" font-weight="bold" font-size="23.4" text-anchor="end" fill="#1c1c1c" stroke="#1c1c1c" stroke-width=".45">0.2</text>
<text transform="translate(48.2 337.4) scale(0.775 1)" font-family="'Liberation Serif','Times New Roman',Times,serif" font-weight="bold" font-size="23.4" text-anchor="end" fill="#1c1c1c" stroke="#1c1c1c" stroke-width=".45">0</text>
<text transform="translate(48.2 453.4) scale(0.775 1)" font-family="'Liberation Serif','Times New Roman',Times,serif" font-weight="bold" font-size="23.4" text-anchor="end" fill="#1c1c1c" stroke="#1c1c1c" stroke-width=".45">-0.2</text>
<text transform="translate(325.8 516.5) scale(0.801 1)" font-family="'Liberation Serif','Times New Roman',Times,serif" font-weight="bold" font-size="33.4" text-anchor="start" fill="#1c1c1c" stroke="#1c1c1c" stroke-width=".45">Time(s)</text>
<text transform="translate(20.3 305.6) rotate(-90) scale(1 .81)" font-family="'Liberation Serif','Times New Roman',Times,serif" font-weight="bold" font-size="35" fill="#111" stroke="#111" stroke-width=".55">Q<tspan font-size="20.5" dy="7.2">s1</tspan><tspan dy="-7.2"> (VAR)</tspan></text>
<text transform="translate(53.0 22.5) scale(.78 1)" font-family="'Liberation Sans',Arial,Helvetica,sans-serif" font-weight="bold" font-size="16" fill="#1a1a1a" stroke="#1a1a1a" stroke-width=".5">x10</text>
<text transform="translate(71.0 11.1) scale(.78 1)" font-family="'Liberation Sans',Arial,Helvetica,sans-serif" font-weight="bold" font-size="16" fill="#1a1a1a" stroke="#1a1a1a" stroke-width=".5">6</text>
<text transform="translate(285.8 44.5) scale(.8 1)" font-family="'Liberation Sans',Arial,Helvetica,sans-serif" font-size="11.2" fill="#222">x10</text>
<text transform="translate(298.7 35.9) scale(.8 1)" font-family="'Liberation Sans',Arial,Helvetica,sans-serif" font-size="8.4" fill="#222">6</text>
<text transform="translate(284.6 81) scale(0.74 1)" font-family="'Liberation Sans',Arial,Helvetica,sans-serif" font-size="16.4" text-anchor="end" fill="#262626">0.1</text>
<text transform="translate(284.5 137.1) scale(0.74 1)" font-family="'Liberation Sans',Arial,Helvetica,sans-serif" font-size="16.4" text-anchor="end" fill="#262626">0</text>
<text transform="translate(284.8 188.8) scale(0.74 1)" font-family="'Liberation Sans',Arial,Helvetica,sans-serif" font-size="16.4" text-anchor="end" fill="#262626">-0.1</text>
<text transform="translate(284.8 233.3) scale(0.74 1)" font-family="'Liberation Sans',Arial,Helvetica,sans-serif" font-size="16.6" text-anchor="start" fill="#262626">8</text>
<text transform="translate(466 227.5) scale(0.74 1)" font-family="'Liberation Sans',Arial,Helvetica,sans-serif" font-size="16.6" text-anchor="start" fill="#262626">8.3</text>
</g>
</svg>
</body>
</html>
